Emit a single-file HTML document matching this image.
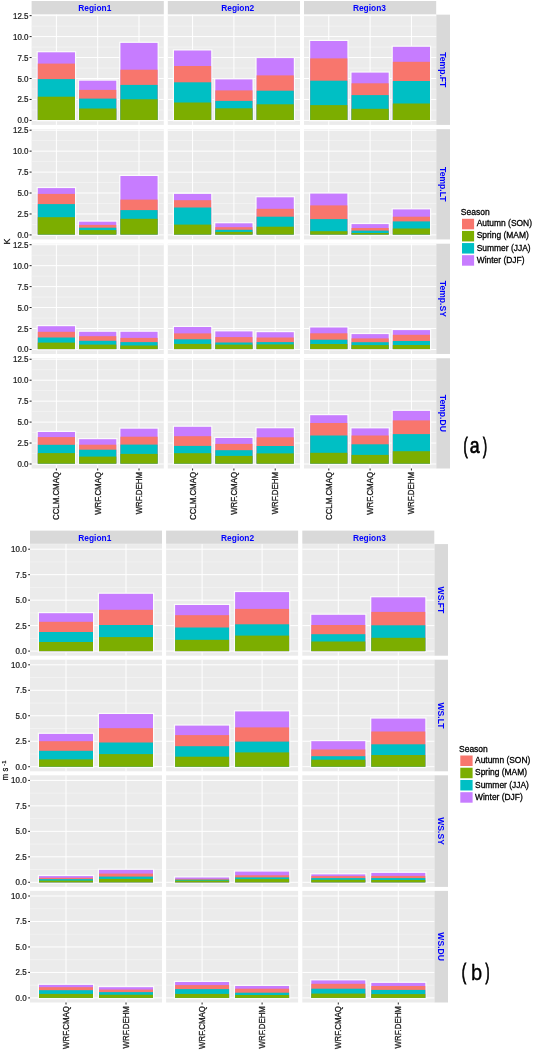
<!DOCTYPE html>
<html><head><meta charset="utf-8"><title>Seasonal contributions</title>
<style>
html,body{margin:0;padding:0;background:#fff;}
body{width:533px;height:1050px;overflow:hidden;}
svg{display:block;font-family:"Liberation Sans", sans-serif;}
</style></head>
<body>
<div style="position:absolute;left:0;top:0;width:533px;height:1050px;will-change:transform">
<svg width="533" height="1050" viewBox="0 0 533 1050">
<rect x="0" y="0" width="533" height="1050" fill="#FFFFFF"/>
<rect x="31.60" y="1.00" width="132.20" height="13.30" fill="#D9D9D9"/>
<rect x="167.80" y="1.00" width="132.20" height="13.30" fill="#D9D9D9"/>
<rect x="304.00" y="1.00" width="132.20" height="13.30" fill="#D9D9D9"/>
<text x="94.80" y="10.90" font-size="8.4" fill="#0000FF" font-weight="bold" text-anchor="middle">Region1</text>
<text x="237.70" y="10.90" font-size="8.4" fill="#0000FF" font-weight="bold" text-anchor="middle">Region2</text>
<text x="369.40" y="10.90" font-size="8.4" fill="#0000FF" font-weight="bold" text-anchor="middle">Region3</text>
<rect x="436.20" y="14.65" width="13.80" height="110.25" fill="#D9D9D9"/>
<text x="0.00" y="0.00" font-size="8.6" fill="#0000FF" font-weight="bold" text-anchor="middle" transform="translate(440.20,69.78) rotate(90)">Temp.FT</text>
<rect x="31.60" y="14.65" width="132.20" height="110.25" fill="#EBEBEB"/>
<line x1="31.60" y1="109.93" x2="163.80" y2="109.93" stroke="#F6F6F6" stroke-width="0.6"/>
<line x1="31.60" y1="88.97" x2="163.80" y2="88.97" stroke="#F6F6F6" stroke-width="0.6"/>
<line x1="31.60" y1="68.03" x2="163.80" y2="68.03" stroke="#F6F6F6" stroke-width="0.6"/>
<line x1="31.60" y1="47.08" x2="163.80" y2="47.08" stroke="#F6F6F6" stroke-width="0.6"/>
<line x1="31.60" y1="26.12" x2="163.80" y2="26.12" stroke="#F6F6F6" stroke-width="0.6"/>
<line x1="31.60" y1="120.40" x2="163.80" y2="120.40" stroke="#FFFFFF" stroke-width="1.0"/>
<line x1="31.60" y1="99.45" x2="163.80" y2="99.45" stroke="#FFFFFF" stroke-width="1.0"/>
<line x1="31.60" y1="78.50" x2="163.80" y2="78.50" stroke="#FFFFFF" stroke-width="1.0"/>
<line x1="31.60" y1="57.55" x2="163.80" y2="57.55" stroke="#FFFFFF" stroke-width="1.0"/>
<line x1="31.60" y1="36.60" x2="163.80" y2="36.60" stroke="#FFFFFF" stroke-width="1.0"/>
<line x1="31.60" y1="15.65" x2="163.80" y2="15.65" stroke="#FFFFFF" stroke-width="1.0"/>
<line x1="56.39" y1="14.65" x2="56.39" y2="124.90" stroke="#FFFFFF" stroke-width="1.0"/>
<line x1="97.70" y1="14.65" x2="97.70" y2="124.90" stroke="#FFFFFF" stroke-width="1.0"/>
<line x1="139.01" y1="14.65" x2="139.01" y2="124.90" stroke="#FFFFFF" stroke-width="1.0"/>
<rect x="36.60" y="51.10" width="39.58" height="70.30" fill="#FBFBFB"/>
<rect x="37.80" y="52.30" width="37.18" height="67.70" fill="#C77CFF"/>
<rect x="37.80" y="63.60" width="37.18" height="56.40" fill="#F8766D"/>
<rect x="37.80" y="79.10" width="37.18" height="40.90" fill="#00BFC4"/>
<rect x="37.80" y="96.70" width="37.18" height="23.30" fill="#7CAE00"/>
<rect x="77.91" y="79.50" width="39.58" height="41.90" fill="#FBFBFB"/>
<rect x="79.11" y="80.70" width="37.18" height="39.30" fill="#C77CFF"/>
<rect x="79.11" y="89.90" width="37.18" height="30.10" fill="#F8766D"/>
<rect x="79.11" y="98.60" width="37.18" height="21.40" fill="#00BFC4"/>
<rect x="79.11" y="108.50" width="37.18" height="11.50" fill="#7CAE00"/>
<rect x="119.22" y="41.70" width="39.58" height="79.70" fill="#FBFBFB"/>
<rect x="120.42" y="42.90" width="37.18" height="77.10" fill="#C77CFF"/>
<rect x="120.42" y="69.70" width="37.18" height="50.30" fill="#F8766D"/>
<rect x="120.42" y="84.90" width="37.18" height="35.10" fill="#00BFC4"/>
<rect x="120.42" y="99.30" width="37.18" height="20.70" fill="#7CAE00"/>
<rect x="167.80" y="14.65" width="132.20" height="110.25" fill="#EBEBEB"/>
<line x1="167.80" y1="109.93" x2="300.00" y2="109.93" stroke="#F6F6F6" stroke-width="0.6"/>
<line x1="167.80" y1="88.97" x2="300.00" y2="88.97" stroke="#F6F6F6" stroke-width="0.6"/>
<line x1="167.80" y1="68.03" x2="300.00" y2="68.03" stroke="#F6F6F6" stroke-width="0.6"/>
<line x1="167.80" y1="47.08" x2="300.00" y2="47.08" stroke="#F6F6F6" stroke-width="0.6"/>
<line x1="167.80" y1="26.12" x2="300.00" y2="26.12" stroke="#F6F6F6" stroke-width="0.6"/>
<line x1="167.80" y1="120.40" x2="300.00" y2="120.40" stroke="#FFFFFF" stroke-width="1.0"/>
<line x1="167.80" y1="99.45" x2="300.00" y2="99.45" stroke="#FFFFFF" stroke-width="1.0"/>
<line x1="167.80" y1="78.50" x2="300.00" y2="78.50" stroke="#FFFFFF" stroke-width="1.0"/>
<line x1="167.80" y1="57.55" x2="300.00" y2="57.55" stroke="#FFFFFF" stroke-width="1.0"/>
<line x1="167.80" y1="36.60" x2="300.00" y2="36.60" stroke="#FFFFFF" stroke-width="1.0"/>
<line x1="167.80" y1="15.65" x2="300.00" y2="15.65" stroke="#FFFFFF" stroke-width="1.0"/>
<line x1="192.59" y1="14.65" x2="192.59" y2="124.90" stroke="#FFFFFF" stroke-width="1.0"/>
<line x1="233.90" y1="14.65" x2="233.90" y2="124.90" stroke="#FFFFFF" stroke-width="1.0"/>
<line x1="275.21" y1="14.65" x2="275.21" y2="124.90" stroke="#FFFFFF" stroke-width="1.0"/>
<rect x="172.80" y="49.30" width="39.58" height="72.10" fill="#FBFBFB"/>
<rect x="174.00" y="50.50" width="37.18" height="69.50" fill="#C77CFF"/>
<rect x="174.00" y="66.00" width="37.18" height="54.00" fill="#F8766D"/>
<rect x="174.00" y="82.30" width="37.18" height="37.70" fill="#00BFC4"/>
<rect x="174.00" y="102.50" width="37.18" height="17.50" fill="#7CAE00"/>
<rect x="214.11" y="78.20" width="39.58" height="43.20" fill="#FBFBFB"/>
<rect x="215.31" y="79.40" width="37.18" height="40.60" fill="#C77CFF"/>
<rect x="215.31" y="90.40" width="37.18" height="29.60" fill="#F8766D"/>
<rect x="215.31" y="100.90" width="37.18" height="19.10" fill="#00BFC4"/>
<rect x="215.31" y="108.30" width="37.18" height="11.70" fill="#7CAE00"/>
<rect x="255.42" y="56.90" width="39.58" height="64.50" fill="#FBFBFB"/>
<rect x="256.62" y="58.10" width="37.18" height="61.90" fill="#C77CFF"/>
<rect x="256.62" y="75.40" width="37.18" height="44.60" fill="#F8766D"/>
<rect x="256.62" y="90.70" width="37.18" height="29.30" fill="#00BFC4"/>
<rect x="256.62" y="104.30" width="37.18" height="15.70" fill="#7CAE00"/>
<rect x="304.00" y="14.65" width="132.20" height="110.25" fill="#EBEBEB"/>
<line x1="304.00" y1="109.93" x2="436.20" y2="109.93" stroke="#F6F6F6" stroke-width="0.6"/>
<line x1="304.00" y1="88.97" x2="436.20" y2="88.97" stroke="#F6F6F6" stroke-width="0.6"/>
<line x1="304.00" y1="68.03" x2="436.20" y2="68.03" stroke="#F6F6F6" stroke-width="0.6"/>
<line x1="304.00" y1="47.08" x2="436.20" y2="47.08" stroke="#F6F6F6" stroke-width="0.6"/>
<line x1="304.00" y1="26.12" x2="436.20" y2="26.12" stroke="#F6F6F6" stroke-width="0.6"/>
<line x1="304.00" y1="120.40" x2="436.20" y2="120.40" stroke="#FFFFFF" stroke-width="1.0"/>
<line x1="304.00" y1="99.45" x2="436.20" y2="99.45" stroke="#FFFFFF" stroke-width="1.0"/>
<line x1="304.00" y1="78.50" x2="436.20" y2="78.50" stroke="#FFFFFF" stroke-width="1.0"/>
<line x1="304.00" y1="57.55" x2="436.20" y2="57.55" stroke="#FFFFFF" stroke-width="1.0"/>
<line x1="304.00" y1="36.60" x2="436.20" y2="36.60" stroke="#FFFFFF" stroke-width="1.0"/>
<line x1="304.00" y1="15.65" x2="436.20" y2="15.65" stroke="#FFFFFF" stroke-width="1.0"/>
<line x1="328.79" y1="14.65" x2="328.79" y2="124.90" stroke="#FFFFFF" stroke-width="1.0"/>
<line x1="370.10" y1="14.65" x2="370.10" y2="124.90" stroke="#FFFFFF" stroke-width="1.0"/>
<line x1="411.41" y1="14.65" x2="411.41" y2="124.90" stroke="#FFFFFF" stroke-width="1.0"/>
<rect x="309.00" y="39.80" width="39.58" height="81.60" fill="#FBFBFB"/>
<rect x="310.20" y="41.00" width="37.18" height="79.00" fill="#C77CFF"/>
<rect x="310.20" y="58.40" width="37.18" height="61.60" fill="#F8766D"/>
<rect x="310.20" y="80.70" width="37.18" height="39.30" fill="#00BFC4"/>
<rect x="310.20" y="105.10" width="37.18" height="14.90" fill="#7CAE00"/>
<rect x="350.31" y="71.40" width="39.58" height="50.00" fill="#FBFBFB"/>
<rect x="351.51" y="72.60" width="37.18" height="47.40" fill="#C77CFF"/>
<rect x="351.51" y="83.30" width="37.18" height="36.70" fill="#F8766D"/>
<rect x="351.51" y="95.10" width="37.18" height="24.90" fill="#00BFC4"/>
<rect x="351.51" y="108.80" width="37.18" height="11.20" fill="#7CAE00"/>
<rect x="391.62" y="45.60" width="39.58" height="75.80" fill="#FBFBFB"/>
<rect x="392.82" y="46.80" width="37.18" height="73.20" fill="#C77CFF"/>
<rect x="392.82" y="61.80" width="37.18" height="58.20" fill="#F8766D"/>
<rect x="392.82" y="81.00" width="37.18" height="39.00" fill="#00BFC4"/>
<rect x="392.82" y="103.50" width="37.18" height="16.50" fill="#7CAE00"/>
<text x="0.00" y="0.00" font-size="8.6" fill="#222" font-weight="normal" text-anchor="end" transform="translate(28.50,123.40) scale(0.93,1)" stroke="#222" stroke-width="0.25">0.0</text>
<line x1="29.60" y1="120.40" x2="31.60" y2="120.40" stroke="#222222" stroke-width="1.0"/>
<text x="0.00" y="0.00" font-size="8.6" fill="#222" font-weight="normal" text-anchor="end" transform="translate(28.50,102.45) scale(0.93,1)" stroke="#222" stroke-width="0.25">2.5</text>
<line x1="29.60" y1="99.45" x2="31.60" y2="99.45" stroke="#222222" stroke-width="1.0"/>
<text x="0.00" y="0.00" font-size="8.6" fill="#222" font-weight="normal" text-anchor="end" transform="translate(28.50,81.50) scale(0.93,1)" stroke="#222" stroke-width="0.25">5.0</text>
<line x1="29.60" y1="78.50" x2="31.60" y2="78.50" stroke="#222222" stroke-width="1.0"/>
<text x="0.00" y="0.00" font-size="8.6" fill="#222" font-weight="normal" text-anchor="end" transform="translate(28.50,60.55) scale(0.93,1)" stroke="#222" stroke-width="0.25">7.5</text>
<line x1="29.60" y1="57.55" x2="31.60" y2="57.55" stroke="#222222" stroke-width="1.0"/>
<text x="0.00" y="0.00" font-size="8.6" fill="#222" font-weight="normal" text-anchor="end" transform="translate(28.50,39.60) scale(0.93,1)" stroke="#222" stroke-width="0.25">10.0</text>
<line x1="29.60" y1="36.60" x2="31.60" y2="36.60" stroke="#222222" stroke-width="1.0"/>
<text x="0.00" y="0.00" font-size="8.6" fill="#222" font-weight="normal" text-anchor="end" transform="translate(28.50,18.65) scale(0.93,1)" stroke="#222" stroke-width="0.25">12.5</text>
<line x1="29.60" y1="15.65" x2="31.60" y2="15.65" stroke="#222222" stroke-width="1.0"/>
<rect x="436.20" y="129.18" width="13.80" height="110.25" fill="#D9D9D9"/>
<text x="0.00" y="0.00" font-size="8.6" fill="#0000FF" font-weight="bold" text-anchor="middle" transform="translate(440.20,184.31) rotate(90)">Temp.LT</text>
<rect x="31.60" y="129.18" width="132.20" height="110.25" fill="#EBEBEB"/>
<line x1="31.60" y1="224.46" x2="163.80" y2="224.46" stroke="#F6F6F6" stroke-width="0.6"/>
<line x1="31.60" y1="203.50" x2="163.80" y2="203.50" stroke="#F6F6F6" stroke-width="0.6"/>
<line x1="31.60" y1="182.56" x2="163.80" y2="182.56" stroke="#F6F6F6" stroke-width="0.6"/>
<line x1="31.60" y1="161.61" x2="163.80" y2="161.61" stroke="#F6F6F6" stroke-width="0.6"/>
<line x1="31.60" y1="140.66" x2="163.80" y2="140.66" stroke="#F6F6F6" stroke-width="0.6"/>
<line x1="31.60" y1="234.93" x2="163.80" y2="234.93" stroke="#FFFFFF" stroke-width="1.0"/>
<line x1="31.60" y1="213.98" x2="163.80" y2="213.98" stroke="#FFFFFF" stroke-width="1.0"/>
<line x1="31.60" y1="193.03" x2="163.80" y2="193.03" stroke="#FFFFFF" stroke-width="1.0"/>
<line x1="31.60" y1="172.08" x2="163.80" y2="172.08" stroke="#FFFFFF" stroke-width="1.0"/>
<line x1="31.60" y1="151.13" x2="163.80" y2="151.13" stroke="#FFFFFF" stroke-width="1.0"/>
<line x1="31.60" y1="130.18" x2="163.80" y2="130.18" stroke="#FFFFFF" stroke-width="1.0"/>
<line x1="56.39" y1="129.18" x2="56.39" y2="239.43" stroke="#FFFFFF" stroke-width="1.0"/>
<line x1="97.70" y1="129.18" x2="97.70" y2="239.43" stroke="#FFFFFF" stroke-width="1.0"/>
<line x1="139.01" y1="129.18" x2="139.01" y2="239.43" stroke="#FFFFFF" stroke-width="1.0"/>
<rect x="36.60" y="186.90" width="39.58" height="49.03" fill="#FBFBFB"/>
<rect x="37.80" y="188.10" width="37.18" height="46.43" fill="#C77CFF"/>
<rect x="37.80" y="193.90" width="37.18" height="40.63" fill="#F8766D"/>
<rect x="37.80" y="204.10" width="37.18" height="30.43" fill="#00BFC4"/>
<rect x="37.80" y="217.20" width="37.18" height="17.33" fill="#7CAE00"/>
<rect x="77.91" y="220.50" width="39.58" height="15.43" fill="#FBFBFB"/>
<rect x="79.11" y="221.70" width="37.18" height="12.83" fill="#C77CFF"/>
<rect x="79.11" y="224.90" width="37.18" height="9.63" fill="#F8766D"/>
<rect x="79.11" y="227.70" width="37.18" height="6.83" fill="#00BFC4"/>
<rect x="79.11" y="230.10" width="37.18" height="4.43" fill="#7CAE00"/>
<rect x="119.22" y="174.80" width="39.58" height="61.13" fill="#FBFBFB"/>
<rect x="120.42" y="176.00" width="37.18" height="58.53" fill="#C77CFF"/>
<rect x="120.42" y="199.60" width="37.18" height="34.93" fill="#F8766D"/>
<rect x="120.42" y="210.10" width="37.18" height="24.43" fill="#00BFC4"/>
<rect x="120.42" y="218.80" width="37.18" height="15.73" fill="#7CAE00"/>
<rect x="167.80" y="129.18" width="132.20" height="110.25" fill="#EBEBEB"/>
<line x1="167.80" y1="224.46" x2="300.00" y2="224.46" stroke="#F6F6F6" stroke-width="0.6"/>
<line x1="167.80" y1="203.50" x2="300.00" y2="203.50" stroke="#F6F6F6" stroke-width="0.6"/>
<line x1="167.80" y1="182.56" x2="300.00" y2="182.56" stroke="#F6F6F6" stroke-width="0.6"/>
<line x1="167.80" y1="161.61" x2="300.00" y2="161.61" stroke="#F6F6F6" stroke-width="0.6"/>
<line x1="167.80" y1="140.66" x2="300.00" y2="140.66" stroke="#F6F6F6" stroke-width="0.6"/>
<line x1="167.80" y1="234.93" x2="300.00" y2="234.93" stroke="#FFFFFF" stroke-width="1.0"/>
<line x1="167.80" y1="213.98" x2="300.00" y2="213.98" stroke="#FFFFFF" stroke-width="1.0"/>
<line x1="167.80" y1="193.03" x2="300.00" y2="193.03" stroke="#FFFFFF" stroke-width="1.0"/>
<line x1="167.80" y1="172.08" x2="300.00" y2="172.08" stroke="#FFFFFF" stroke-width="1.0"/>
<line x1="167.80" y1="151.13" x2="300.00" y2="151.13" stroke="#FFFFFF" stroke-width="1.0"/>
<line x1="167.80" y1="130.18" x2="300.00" y2="130.18" stroke="#FFFFFF" stroke-width="1.0"/>
<line x1="192.59" y1="129.18" x2="192.59" y2="239.43" stroke="#FFFFFF" stroke-width="1.0"/>
<line x1="233.90" y1="129.18" x2="233.90" y2="239.43" stroke="#FFFFFF" stroke-width="1.0"/>
<line x1="275.21" y1="129.18" x2="275.21" y2="239.43" stroke="#FFFFFF" stroke-width="1.0"/>
<rect x="172.80" y="192.70" width="39.58" height="43.23" fill="#FBFBFB"/>
<rect x="174.00" y="193.90" width="37.18" height="40.63" fill="#C77CFF"/>
<rect x="174.00" y="200.20" width="37.18" height="34.33" fill="#F8766D"/>
<rect x="174.00" y="207.50" width="37.18" height="27.03" fill="#00BFC4"/>
<rect x="174.00" y="224.60" width="37.18" height="9.93" fill="#7CAE00"/>
<rect x="214.11" y="222.10" width="39.58" height="13.83" fill="#FBFBFB"/>
<rect x="215.31" y="223.30" width="37.18" height="11.23" fill="#C77CFF"/>
<rect x="215.31" y="227.20" width="37.18" height="7.33" fill="#F8766D"/>
<rect x="215.31" y="229.80" width="37.18" height="4.73" fill="#00BFC4"/>
<rect x="215.31" y="231.90" width="37.18" height="2.63" fill="#7CAE00"/>
<rect x="255.42" y="196.10" width="39.58" height="39.83" fill="#FBFBFB"/>
<rect x="256.62" y="197.30" width="37.18" height="37.23" fill="#C77CFF"/>
<rect x="256.62" y="208.80" width="37.18" height="25.73" fill="#F8766D"/>
<rect x="256.62" y="216.70" width="37.18" height="17.83" fill="#00BFC4"/>
<rect x="256.62" y="226.70" width="37.18" height="7.83" fill="#7CAE00"/>
<rect x="304.00" y="129.18" width="132.20" height="110.25" fill="#EBEBEB"/>
<line x1="304.00" y1="224.46" x2="436.20" y2="224.46" stroke="#F6F6F6" stroke-width="0.6"/>
<line x1="304.00" y1="203.50" x2="436.20" y2="203.50" stroke="#F6F6F6" stroke-width="0.6"/>
<line x1="304.00" y1="182.56" x2="436.20" y2="182.56" stroke="#F6F6F6" stroke-width="0.6"/>
<line x1="304.00" y1="161.61" x2="436.20" y2="161.61" stroke="#F6F6F6" stroke-width="0.6"/>
<line x1="304.00" y1="140.66" x2="436.20" y2="140.66" stroke="#F6F6F6" stroke-width="0.6"/>
<line x1="304.00" y1="234.93" x2="436.20" y2="234.93" stroke="#FFFFFF" stroke-width="1.0"/>
<line x1="304.00" y1="213.98" x2="436.20" y2="213.98" stroke="#FFFFFF" stroke-width="1.0"/>
<line x1="304.00" y1="193.03" x2="436.20" y2="193.03" stroke="#FFFFFF" stroke-width="1.0"/>
<line x1="304.00" y1="172.08" x2="436.20" y2="172.08" stroke="#FFFFFF" stroke-width="1.0"/>
<line x1="304.00" y1="151.13" x2="436.20" y2="151.13" stroke="#FFFFFF" stroke-width="1.0"/>
<line x1="304.00" y1="130.18" x2="436.20" y2="130.18" stroke="#FFFFFF" stroke-width="1.0"/>
<line x1="328.79" y1="129.18" x2="328.79" y2="239.43" stroke="#FFFFFF" stroke-width="1.0"/>
<line x1="370.10" y1="129.18" x2="370.10" y2="239.43" stroke="#FFFFFF" stroke-width="1.0"/>
<line x1="411.41" y1="129.18" x2="411.41" y2="239.43" stroke="#FFFFFF" stroke-width="1.0"/>
<rect x="309.00" y="192.40" width="39.58" height="43.53" fill="#FBFBFB"/>
<rect x="310.20" y="193.60" width="37.18" height="40.93" fill="#C77CFF"/>
<rect x="310.20" y="205.40" width="37.18" height="29.13" fill="#F8766D"/>
<rect x="310.20" y="219.10" width="37.18" height="15.43" fill="#00BFC4"/>
<rect x="310.20" y="231.20" width="37.18" height="3.33" fill="#7CAE00"/>
<rect x="350.31" y="222.90" width="39.58" height="13.03" fill="#FBFBFB"/>
<rect x="351.51" y="224.10" width="37.18" height="10.43" fill="#C77CFF"/>
<rect x="351.51" y="228.00" width="37.18" height="6.53" fill="#F8766D"/>
<rect x="351.51" y="230.60" width="37.18" height="3.93" fill="#00BFC4"/>
<rect x="351.51" y="233.00" width="37.18" height="1.53" fill="#7CAE00"/>
<rect x="391.62" y="208.20" width="39.58" height="27.73" fill="#FBFBFB"/>
<rect x="392.82" y="209.40" width="37.18" height="25.13" fill="#C77CFF"/>
<rect x="392.82" y="216.70" width="37.18" height="17.83" fill="#F8766D"/>
<rect x="392.82" y="221.40" width="37.18" height="13.13" fill="#00BFC4"/>
<rect x="392.82" y="228.50" width="37.18" height="6.03" fill="#7CAE00"/>
<text x="0.00" y="0.00" font-size="8.6" fill="#222" font-weight="normal" text-anchor="end" transform="translate(28.50,237.93) scale(0.93,1)" stroke="#222" stroke-width="0.25">0.0</text>
<line x1="29.60" y1="234.93" x2="31.60" y2="234.93" stroke="#222222" stroke-width="1.0"/>
<text x="0.00" y="0.00" font-size="8.6" fill="#222" font-weight="normal" text-anchor="end" transform="translate(28.50,216.98) scale(0.93,1)" stroke="#222" stroke-width="0.25">2.5</text>
<line x1="29.60" y1="213.98" x2="31.60" y2="213.98" stroke="#222222" stroke-width="1.0"/>
<text x="0.00" y="0.00" font-size="8.6" fill="#222" font-weight="normal" text-anchor="end" transform="translate(28.50,196.03) scale(0.93,1)" stroke="#222" stroke-width="0.25">5.0</text>
<line x1="29.60" y1="193.03" x2="31.60" y2="193.03" stroke="#222222" stroke-width="1.0"/>
<text x="0.00" y="0.00" font-size="8.6" fill="#222" font-weight="normal" text-anchor="end" transform="translate(28.50,175.08) scale(0.93,1)" stroke="#222" stroke-width="0.25">7.5</text>
<line x1="29.60" y1="172.08" x2="31.60" y2="172.08" stroke="#222222" stroke-width="1.0"/>
<text x="0.00" y="0.00" font-size="8.6" fill="#222" font-weight="normal" text-anchor="end" transform="translate(28.50,154.13) scale(0.93,1)" stroke="#222" stroke-width="0.25">10.0</text>
<line x1="29.60" y1="151.13" x2="31.60" y2="151.13" stroke="#222222" stroke-width="1.0"/>
<text x="0.00" y="0.00" font-size="8.6" fill="#222" font-weight="normal" text-anchor="end" transform="translate(28.50,133.18) scale(0.93,1)" stroke="#222" stroke-width="0.25">12.5</text>
<line x1="29.60" y1="130.18" x2="31.60" y2="130.18" stroke="#222222" stroke-width="1.0"/>
<rect x="436.20" y="243.71" width="13.80" height="110.25" fill="#D9D9D9"/>
<text x="0.00" y="0.00" font-size="8.6" fill="#0000FF" font-weight="bold" text-anchor="middle" transform="translate(440.20,298.84) rotate(90)">Temp.SY</text>
<rect x="31.60" y="243.71" width="132.20" height="110.25" fill="#EBEBEB"/>
<line x1="31.60" y1="338.99" x2="163.80" y2="338.99" stroke="#F6F6F6" stroke-width="0.6"/>
<line x1="31.60" y1="318.04" x2="163.80" y2="318.04" stroke="#F6F6F6" stroke-width="0.6"/>
<line x1="31.60" y1="297.09" x2="163.80" y2="297.09" stroke="#F6F6F6" stroke-width="0.6"/>
<line x1="31.60" y1="276.14" x2="163.80" y2="276.14" stroke="#F6F6F6" stroke-width="0.6"/>
<line x1="31.60" y1="255.19" x2="163.80" y2="255.19" stroke="#F6F6F6" stroke-width="0.6"/>
<line x1="31.60" y1="349.46" x2="163.80" y2="349.46" stroke="#FFFFFF" stroke-width="1.0"/>
<line x1="31.60" y1="328.51" x2="163.80" y2="328.51" stroke="#FFFFFF" stroke-width="1.0"/>
<line x1="31.60" y1="307.56" x2="163.80" y2="307.56" stroke="#FFFFFF" stroke-width="1.0"/>
<line x1="31.60" y1="286.61" x2="163.80" y2="286.61" stroke="#FFFFFF" stroke-width="1.0"/>
<line x1="31.60" y1="265.66" x2="163.80" y2="265.66" stroke="#FFFFFF" stroke-width="1.0"/>
<line x1="31.60" y1="244.71" x2="163.80" y2="244.71" stroke="#FFFFFF" stroke-width="1.0"/>
<line x1="56.39" y1="243.71" x2="56.39" y2="353.96" stroke="#FFFFFF" stroke-width="1.0"/>
<line x1="97.70" y1="243.71" x2="97.70" y2="353.96" stroke="#FFFFFF" stroke-width="1.0"/>
<line x1="139.01" y1="243.71" x2="139.01" y2="353.96" stroke="#FFFFFF" stroke-width="1.0"/>
<rect x="36.60" y="325.00" width="39.58" height="25.46" fill="#FBFBFB"/>
<rect x="37.80" y="326.20" width="37.18" height="22.86" fill="#C77CFF"/>
<rect x="37.80" y="331.80" width="37.18" height="17.26" fill="#F8766D"/>
<rect x="37.80" y="337.50" width="37.18" height="11.56" fill="#00BFC4"/>
<rect x="37.80" y="342.60" width="37.18" height="6.46" fill="#7CAE00"/>
<rect x="77.91" y="330.60" width="39.58" height="19.86" fill="#FBFBFB"/>
<rect x="79.11" y="331.80" width="37.18" height="17.26" fill="#C77CFF"/>
<rect x="79.11" y="336.20" width="37.18" height="12.86" fill="#F8766D"/>
<rect x="79.11" y="340.80" width="37.18" height="8.26" fill="#00BFC4"/>
<rect x="79.11" y="344.60" width="37.18" height="4.46" fill="#7CAE00"/>
<rect x="119.22" y="330.60" width="39.58" height="19.86" fill="#FBFBFB"/>
<rect x="120.42" y="331.80" width="37.18" height="17.26" fill="#C77CFF"/>
<rect x="120.42" y="337.90" width="37.18" height="11.16" fill="#F8766D"/>
<rect x="120.42" y="342.10" width="37.18" height="6.96" fill="#00BFC4"/>
<rect x="120.42" y="345.50" width="37.18" height="3.56" fill="#7CAE00"/>
<rect x="167.80" y="243.71" width="132.20" height="110.25" fill="#EBEBEB"/>
<line x1="167.80" y1="338.99" x2="300.00" y2="338.99" stroke="#F6F6F6" stroke-width="0.6"/>
<line x1="167.80" y1="318.04" x2="300.00" y2="318.04" stroke="#F6F6F6" stroke-width="0.6"/>
<line x1="167.80" y1="297.09" x2="300.00" y2="297.09" stroke="#F6F6F6" stroke-width="0.6"/>
<line x1="167.80" y1="276.14" x2="300.00" y2="276.14" stroke="#F6F6F6" stroke-width="0.6"/>
<line x1="167.80" y1="255.19" x2="300.00" y2="255.19" stroke="#F6F6F6" stroke-width="0.6"/>
<line x1="167.80" y1="349.46" x2="300.00" y2="349.46" stroke="#FFFFFF" stroke-width="1.0"/>
<line x1="167.80" y1="328.51" x2="300.00" y2="328.51" stroke="#FFFFFF" stroke-width="1.0"/>
<line x1="167.80" y1="307.56" x2="300.00" y2="307.56" stroke="#FFFFFF" stroke-width="1.0"/>
<line x1="167.80" y1="286.61" x2="300.00" y2="286.61" stroke="#FFFFFF" stroke-width="1.0"/>
<line x1="167.80" y1="265.66" x2="300.00" y2="265.66" stroke="#FFFFFF" stroke-width="1.0"/>
<line x1="167.80" y1="244.71" x2="300.00" y2="244.71" stroke="#FFFFFF" stroke-width="1.0"/>
<line x1="192.59" y1="243.71" x2="192.59" y2="353.96" stroke="#FFFFFF" stroke-width="1.0"/>
<line x1="233.90" y1="243.71" x2="233.90" y2="353.96" stroke="#FFFFFF" stroke-width="1.0"/>
<line x1="275.21" y1="243.71" x2="275.21" y2="353.96" stroke="#FFFFFF" stroke-width="1.0"/>
<rect x="172.80" y="325.80" width="39.58" height="24.66" fill="#FBFBFB"/>
<rect x="174.00" y="327.00" width="37.18" height="22.06" fill="#C77CFF"/>
<rect x="174.00" y="333.40" width="37.18" height="15.66" fill="#F8766D"/>
<rect x="174.00" y="339.30" width="37.18" height="9.76" fill="#00BFC4"/>
<rect x="174.00" y="343.90" width="37.18" height="5.16" fill="#7CAE00"/>
<rect x="214.11" y="330.20" width="39.58" height="20.26" fill="#FBFBFB"/>
<rect x="215.31" y="331.40" width="37.18" height="17.66" fill="#C77CFF"/>
<rect x="215.31" y="337.10" width="37.18" height="11.96" fill="#F8766D"/>
<rect x="215.31" y="342.50" width="37.18" height="6.56" fill="#00BFC4"/>
<rect x="215.31" y="344.60" width="37.18" height="4.46" fill="#7CAE00"/>
<rect x="255.42" y="331.00" width="39.58" height="19.46" fill="#FBFBFB"/>
<rect x="256.62" y="332.20" width="37.18" height="16.86" fill="#C77CFF"/>
<rect x="256.62" y="337.50" width="37.18" height="11.56" fill="#F8766D"/>
<rect x="256.62" y="342.10" width="37.18" height="6.96" fill="#00BFC4"/>
<rect x="256.62" y="344.40" width="37.18" height="4.66" fill="#7CAE00"/>
<rect x="304.00" y="243.71" width="132.20" height="110.25" fill="#EBEBEB"/>
<line x1="304.00" y1="338.99" x2="436.20" y2="338.99" stroke="#F6F6F6" stroke-width="0.6"/>
<line x1="304.00" y1="318.04" x2="436.20" y2="318.04" stroke="#F6F6F6" stroke-width="0.6"/>
<line x1="304.00" y1="297.09" x2="436.20" y2="297.09" stroke="#F6F6F6" stroke-width="0.6"/>
<line x1="304.00" y1="276.14" x2="436.20" y2="276.14" stroke="#F6F6F6" stroke-width="0.6"/>
<line x1="304.00" y1="255.19" x2="436.20" y2="255.19" stroke="#F6F6F6" stroke-width="0.6"/>
<line x1="304.00" y1="349.46" x2="436.20" y2="349.46" stroke="#FFFFFF" stroke-width="1.0"/>
<line x1="304.00" y1="328.51" x2="436.20" y2="328.51" stroke="#FFFFFF" stroke-width="1.0"/>
<line x1="304.00" y1="307.56" x2="436.20" y2="307.56" stroke="#FFFFFF" stroke-width="1.0"/>
<line x1="304.00" y1="286.61" x2="436.20" y2="286.61" stroke="#FFFFFF" stroke-width="1.0"/>
<line x1="304.00" y1="265.66" x2="436.20" y2="265.66" stroke="#FFFFFF" stroke-width="1.0"/>
<line x1="304.00" y1="244.71" x2="436.20" y2="244.71" stroke="#FFFFFF" stroke-width="1.0"/>
<line x1="328.79" y1="243.71" x2="328.79" y2="353.96" stroke="#FFFFFF" stroke-width="1.0"/>
<line x1="370.10" y1="243.71" x2="370.10" y2="353.96" stroke="#FFFFFF" stroke-width="1.0"/>
<line x1="411.41" y1="243.71" x2="411.41" y2="353.96" stroke="#FFFFFF" stroke-width="1.0"/>
<rect x="309.00" y="326.30" width="39.58" height="24.16" fill="#FBFBFB"/>
<rect x="310.20" y="327.50" width="37.18" height="21.56" fill="#C77CFF"/>
<rect x="310.20" y="333.30" width="37.18" height="15.76" fill="#F8766D"/>
<rect x="310.20" y="339.70" width="37.18" height="9.36" fill="#00BFC4"/>
<rect x="310.20" y="344.00" width="37.18" height="5.06" fill="#7CAE00"/>
<rect x="350.31" y="332.90" width="39.58" height="17.56" fill="#FBFBFB"/>
<rect x="351.51" y="334.10" width="37.18" height="14.96" fill="#C77CFF"/>
<rect x="351.51" y="338.40" width="37.18" height="10.66" fill="#F8766D"/>
<rect x="351.51" y="342.20" width="37.18" height="6.86" fill="#00BFC4"/>
<rect x="351.51" y="345.10" width="37.18" height="3.96" fill="#7CAE00"/>
<rect x="391.62" y="328.90" width="39.58" height="21.56" fill="#FBFBFB"/>
<rect x="392.82" y="330.10" width="37.18" height="18.96" fill="#C77CFF"/>
<rect x="392.82" y="334.80" width="37.18" height="14.26" fill="#F8766D"/>
<rect x="392.82" y="341.00" width="37.18" height="8.06" fill="#00BFC4"/>
<rect x="392.82" y="345.00" width="37.18" height="4.06" fill="#7CAE00"/>
<text x="0.00" y="0.00" font-size="8.6" fill="#222" font-weight="normal" text-anchor="end" transform="translate(28.50,352.46) scale(0.93,1)" stroke="#222" stroke-width="0.25">0.0</text>
<line x1="29.60" y1="349.46" x2="31.60" y2="349.46" stroke="#222222" stroke-width="1.0"/>
<text x="0.00" y="0.00" font-size="8.6" fill="#222" font-weight="normal" text-anchor="end" transform="translate(28.50,331.51) scale(0.93,1)" stroke="#222" stroke-width="0.25">2.5</text>
<line x1="29.60" y1="328.51" x2="31.60" y2="328.51" stroke="#222222" stroke-width="1.0"/>
<text x="0.00" y="0.00" font-size="8.6" fill="#222" font-weight="normal" text-anchor="end" transform="translate(28.50,310.56) scale(0.93,1)" stroke="#222" stroke-width="0.25">5.0</text>
<line x1="29.60" y1="307.56" x2="31.60" y2="307.56" stroke="#222222" stroke-width="1.0"/>
<text x="0.00" y="0.00" font-size="8.6" fill="#222" font-weight="normal" text-anchor="end" transform="translate(28.50,289.61) scale(0.93,1)" stroke="#222" stroke-width="0.25">7.5</text>
<line x1="29.60" y1="286.61" x2="31.60" y2="286.61" stroke="#222222" stroke-width="1.0"/>
<text x="0.00" y="0.00" font-size="8.6" fill="#222" font-weight="normal" text-anchor="end" transform="translate(28.50,268.66) scale(0.93,1)" stroke="#222" stroke-width="0.25">10.0</text>
<line x1="29.60" y1="265.66" x2="31.60" y2="265.66" stroke="#222222" stroke-width="1.0"/>
<text x="0.00" y="0.00" font-size="8.6" fill="#222" font-weight="normal" text-anchor="end" transform="translate(28.50,247.71) scale(0.93,1)" stroke="#222" stroke-width="0.25">12.5</text>
<line x1="29.60" y1="244.71" x2="31.60" y2="244.71" stroke="#222222" stroke-width="1.0"/>
<rect x="436.20" y="358.24" width="13.80" height="110.25" fill="#D9D9D9"/>
<text x="0.00" y="0.00" font-size="8.6" fill="#0000FF" font-weight="bold" text-anchor="middle" transform="translate(440.20,413.37) rotate(90)">Temp.DU</text>
<rect x="31.60" y="358.24" width="132.20" height="110.25" fill="#EBEBEB"/>
<line x1="31.60" y1="453.51" x2="163.80" y2="453.51" stroke="#F6F6F6" stroke-width="0.6"/>
<line x1="31.60" y1="432.56" x2="163.80" y2="432.56" stroke="#F6F6F6" stroke-width="0.6"/>
<line x1="31.60" y1="411.62" x2="163.80" y2="411.62" stroke="#F6F6F6" stroke-width="0.6"/>
<line x1="31.60" y1="390.67" x2="163.80" y2="390.67" stroke="#F6F6F6" stroke-width="0.6"/>
<line x1="31.60" y1="369.72" x2="163.80" y2="369.72" stroke="#F6F6F6" stroke-width="0.6"/>
<line x1="31.60" y1="463.99" x2="163.80" y2="463.99" stroke="#FFFFFF" stroke-width="1.0"/>
<line x1="31.60" y1="443.04" x2="163.80" y2="443.04" stroke="#FFFFFF" stroke-width="1.0"/>
<line x1="31.60" y1="422.09" x2="163.80" y2="422.09" stroke="#FFFFFF" stroke-width="1.0"/>
<line x1="31.60" y1="401.14" x2="163.80" y2="401.14" stroke="#FFFFFF" stroke-width="1.0"/>
<line x1="31.60" y1="380.19" x2="163.80" y2="380.19" stroke="#FFFFFF" stroke-width="1.0"/>
<line x1="31.60" y1="359.24" x2="163.80" y2="359.24" stroke="#FFFFFF" stroke-width="1.0"/>
<line x1="56.39" y1="358.24" x2="56.39" y2="468.49" stroke="#FFFFFF" stroke-width="1.0"/>
<line x1="97.70" y1="358.24" x2="97.70" y2="468.49" stroke="#FFFFFF" stroke-width="1.0"/>
<line x1="139.01" y1="358.24" x2="139.01" y2="468.49" stroke="#FFFFFF" stroke-width="1.0"/>
<rect x="36.60" y="430.80" width="39.58" height="34.19" fill="#FBFBFB"/>
<rect x="37.80" y="432.00" width="37.18" height="31.59" fill="#C77CFF"/>
<rect x="37.80" y="437.10" width="37.18" height="26.49" fill="#F8766D"/>
<rect x="37.80" y="444.80" width="37.18" height="18.79" fill="#00BFC4"/>
<rect x="37.80" y="453.10" width="37.18" height="10.49" fill="#7CAE00"/>
<rect x="77.91" y="438.00" width="39.58" height="26.99" fill="#FBFBFB"/>
<rect x="79.11" y="439.20" width="37.18" height="24.39" fill="#C77CFF"/>
<rect x="79.11" y="444.70" width="37.18" height="18.89" fill="#F8766D"/>
<rect x="79.11" y="449.70" width="37.18" height="13.89" fill="#00BFC4"/>
<rect x="79.11" y="456.60" width="37.18" height="6.99" fill="#7CAE00"/>
<rect x="119.22" y="427.50" width="39.58" height="37.49" fill="#FBFBFB"/>
<rect x="120.42" y="428.70" width="37.18" height="34.89" fill="#C77CFF"/>
<rect x="120.42" y="436.70" width="37.18" height="26.89" fill="#F8766D"/>
<rect x="120.42" y="444.60" width="37.18" height="18.99" fill="#00BFC4"/>
<rect x="120.42" y="453.90" width="37.18" height="9.69" fill="#7CAE00"/>
<rect x="167.80" y="358.24" width="132.20" height="110.25" fill="#EBEBEB"/>
<line x1="167.80" y1="453.51" x2="300.00" y2="453.51" stroke="#F6F6F6" stroke-width="0.6"/>
<line x1="167.80" y1="432.56" x2="300.00" y2="432.56" stroke="#F6F6F6" stroke-width="0.6"/>
<line x1="167.80" y1="411.62" x2="300.00" y2="411.62" stroke="#F6F6F6" stroke-width="0.6"/>
<line x1="167.80" y1="390.67" x2="300.00" y2="390.67" stroke="#F6F6F6" stroke-width="0.6"/>
<line x1="167.80" y1="369.72" x2="300.00" y2="369.72" stroke="#F6F6F6" stroke-width="0.6"/>
<line x1="167.80" y1="463.99" x2="300.00" y2="463.99" stroke="#FFFFFF" stroke-width="1.0"/>
<line x1="167.80" y1="443.04" x2="300.00" y2="443.04" stroke="#FFFFFF" stroke-width="1.0"/>
<line x1="167.80" y1="422.09" x2="300.00" y2="422.09" stroke="#FFFFFF" stroke-width="1.0"/>
<line x1="167.80" y1="401.14" x2="300.00" y2="401.14" stroke="#FFFFFF" stroke-width="1.0"/>
<line x1="167.80" y1="380.19" x2="300.00" y2="380.19" stroke="#FFFFFF" stroke-width="1.0"/>
<line x1="167.80" y1="359.24" x2="300.00" y2="359.24" stroke="#FFFFFF" stroke-width="1.0"/>
<line x1="192.59" y1="358.24" x2="192.59" y2="468.49" stroke="#FFFFFF" stroke-width="1.0"/>
<line x1="233.90" y1="358.24" x2="233.90" y2="468.49" stroke="#FFFFFF" stroke-width="1.0"/>
<line x1="275.21" y1="358.24" x2="275.21" y2="468.49" stroke="#FFFFFF" stroke-width="1.0"/>
<rect x="172.80" y="425.60" width="39.58" height="39.39" fill="#FBFBFB"/>
<rect x="174.00" y="426.80" width="37.18" height="36.79" fill="#C77CFF"/>
<rect x="174.00" y="436.20" width="37.18" height="27.39" fill="#F8766D"/>
<rect x="174.00" y="445.90" width="37.18" height="17.69" fill="#00BFC4"/>
<rect x="174.00" y="453.20" width="37.18" height="10.39" fill="#7CAE00"/>
<rect x="214.11" y="436.80" width="39.58" height="28.19" fill="#FBFBFB"/>
<rect x="215.31" y="438.00" width="37.18" height="25.59" fill="#C77CFF"/>
<rect x="215.31" y="443.90" width="37.18" height="19.69" fill="#F8766D"/>
<rect x="215.31" y="450.20" width="37.18" height="13.39" fill="#00BFC4"/>
<rect x="215.31" y="455.90" width="37.18" height="7.69" fill="#7CAE00"/>
<rect x="255.42" y="427.10" width="39.58" height="37.89" fill="#FBFBFB"/>
<rect x="256.62" y="428.30" width="37.18" height="35.29" fill="#C77CFF"/>
<rect x="256.62" y="437.30" width="37.18" height="26.29" fill="#F8766D"/>
<rect x="256.62" y="446.00" width="37.18" height="17.59" fill="#00BFC4"/>
<rect x="256.62" y="453.40" width="37.18" height="10.19" fill="#7CAE00"/>
<rect x="304.00" y="358.24" width="132.20" height="110.25" fill="#EBEBEB"/>
<line x1="304.00" y1="453.51" x2="436.20" y2="453.51" stroke="#F6F6F6" stroke-width="0.6"/>
<line x1="304.00" y1="432.56" x2="436.20" y2="432.56" stroke="#F6F6F6" stroke-width="0.6"/>
<line x1="304.00" y1="411.62" x2="436.20" y2="411.62" stroke="#F6F6F6" stroke-width="0.6"/>
<line x1="304.00" y1="390.67" x2="436.20" y2="390.67" stroke="#F6F6F6" stroke-width="0.6"/>
<line x1="304.00" y1="369.72" x2="436.20" y2="369.72" stroke="#F6F6F6" stroke-width="0.6"/>
<line x1="304.00" y1="463.99" x2="436.20" y2="463.99" stroke="#FFFFFF" stroke-width="1.0"/>
<line x1="304.00" y1="443.04" x2="436.20" y2="443.04" stroke="#FFFFFF" stroke-width="1.0"/>
<line x1="304.00" y1="422.09" x2="436.20" y2="422.09" stroke="#FFFFFF" stroke-width="1.0"/>
<line x1="304.00" y1="401.14" x2="436.20" y2="401.14" stroke="#FFFFFF" stroke-width="1.0"/>
<line x1="304.00" y1="380.19" x2="436.20" y2="380.19" stroke="#FFFFFF" stroke-width="1.0"/>
<line x1="304.00" y1="359.24" x2="436.20" y2="359.24" stroke="#FFFFFF" stroke-width="1.0"/>
<line x1="328.79" y1="358.24" x2="328.79" y2="468.49" stroke="#FFFFFF" stroke-width="1.0"/>
<line x1="370.10" y1="358.24" x2="370.10" y2="468.49" stroke="#FFFFFF" stroke-width="1.0"/>
<line x1="411.41" y1="358.24" x2="411.41" y2="468.49" stroke="#FFFFFF" stroke-width="1.0"/>
<rect x="309.00" y="414.00" width="39.58" height="50.99" fill="#FBFBFB"/>
<rect x="310.20" y="415.20" width="37.18" height="48.39" fill="#C77CFF"/>
<rect x="310.20" y="423.00" width="37.18" height="40.59" fill="#F8766D"/>
<rect x="310.20" y="435.50" width="37.18" height="28.09" fill="#00BFC4"/>
<rect x="310.20" y="452.80" width="37.18" height="10.79" fill="#7CAE00"/>
<rect x="350.31" y="427.20" width="39.58" height="37.79" fill="#FBFBFB"/>
<rect x="351.51" y="428.40" width="37.18" height="35.19" fill="#C77CFF"/>
<rect x="351.51" y="435.50" width="37.18" height="28.09" fill="#F8766D"/>
<rect x="351.51" y="444.30" width="37.18" height="19.29" fill="#00BFC4"/>
<rect x="351.51" y="454.90" width="37.18" height="8.69" fill="#7CAE00"/>
<rect x="391.62" y="409.70" width="39.58" height="55.29" fill="#FBFBFB"/>
<rect x="392.82" y="410.90" width="37.18" height="52.69" fill="#C77CFF"/>
<rect x="392.82" y="420.40" width="37.18" height="43.19" fill="#F8766D"/>
<rect x="392.82" y="434.10" width="37.18" height="29.49" fill="#00BFC4"/>
<rect x="392.82" y="451.20" width="37.18" height="12.39" fill="#7CAE00"/>
<text x="0.00" y="0.00" font-size="8.6" fill="#222" font-weight="normal" text-anchor="end" transform="translate(28.50,466.99) scale(0.93,1)" stroke="#222" stroke-width="0.25">0.0</text>
<line x1="29.60" y1="463.99" x2="31.60" y2="463.99" stroke="#222222" stroke-width="1.0"/>
<text x="0.00" y="0.00" font-size="8.6" fill="#222" font-weight="normal" text-anchor="end" transform="translate(28.50,446.04) scale(0.93,1)" stroke="#222" stroke-width="0.25">2.5</text>
<line x1="29.60" y1="443.04" x2="31.60" y2="443.04" stroke="#222222" stroke-width="1.0"/>
<text x="0.00" y="0.00" font-size="8.6" fill="#222" font-weight="normal" text-anchor="end" transform="translate(28.50,425.09) scale(0.93,1)" stroke="#222" stroke-width="0.25">5.0</text>
<line x1="29.60" y1="422.09" x2="31.60" y2="422.09" stroke="#222222" stroke-width="1.0"/>
<text x="0.00" y="0.00" font-size="8.6" fill="#222" font-weight="normal" text-anchor="end" transform="translate(28.50,404.14) scale(0.93,1)" stroke="#222" stroke-width="0.25">7.5</text>
<line x1="29.60" y1="401.14" x2="31.60" y2="401.14" stroke="#222222" stroke-width="1.0"/>
<text x="0.00" y="0.00" font-size="8.6" fill="#222" font-weight="normal" text-anchor="end" transform="translate(28.50,383.19) scale(0.93,1)" stroke="#222" stroke-width="0.25">10.0</text>
<line x1="29.60" y1="380.19" x2="31.60" y2="380.19" stroke="#222222" stroke-width="1.0"/>
<text x="0.00" y="0.00" font-size="8.6" fill="#222" font-weight="normal" text-anchor="end" transform="translate(28.50,362.24) scale(0.93,1)" stroke="#222" stroke-width="0.25">12.5</text>
<line x1="29.60" y1="359.24" x2="31.60" y2="359.24" stroke="#222222" stroke-width="1.0"/>
<line x1="56.39" y1="468.49" x2="56.39" y2="470.49" stroke="#222222" stroke-width="1.0"/>
<text x="0.00" y="0.00" font-size="8.6" fill="#1a1a1a" font-weight="normal" text-anchor="end" transform="translate(59.39,472.00) rotate(-90) scale(0.915,1)" stroke="#1a1a1a" stroke-width="0.3">CCLM.CMAQ</text>
<line x1="97.70" y1="468.49" x2="97.70" y2="470.49" stroke="#222222" stroke-width="1.0"/>
<text x="0.00" y="0.00" font-size="8.6" fill="#1a1a1a" font-weight="normal" text-anchor="end" transform="translate(100.70,472.00) rotate(-90) scale(0.915,1)" stroke="#1a1a1a" stroke-width="0.3">WRF.CMAQ</text>
<line x1="139.01" y1="468.49" x2="139.01" y2="470.49" stroke="#222222" stroke-width="1.0"/>
<text x="0.00" y="0.00" font-size="8.6" fill="#1a1a1a" font-weight="normal" text-anchor="end" transform="translate(142.01,472.00) rotate(-90) scale(0.915,1)" stroke="#1a1a1a" stroke-width="0.3">WRF.DEHM</text>
<line x1="192.59" y1="468.49" x2="192.59" y2="470.49" stroke="#222222" stroke-width="1.0"/>
<text x="0.00" y="0.00" font-size="8.6" fill="#1a1a1a" font-weight="normal" text-anchor="end" transform="translate(195.59,472.00) rotate(-90) scale(0.915,1)" stroke="#1a1a1a" stroke-width="0.3">CCLM.CMAQ</text>
<line x1="233.90" y1="468.49" x2="233.90" y2="470.49" stroke="#222222" stroke-width="1.0"/>
<text x="0.00" y="0.00" font-size="8.6" fill="#1a1a1a" font-weight="normal" text-anchor="end" transform="translate(236.90,472.00) rotate(-90) scale(0.915,1)" stroke="#1a1a1a" stroke-width="0.3">WRF.CMAQ</text>
<line x1="275.21" y1="468.49" x2="275.21" y2="470.49" stroke="#222222" stroke-width="1.0"/>
<text x="0.00" y="0.00" font-size="8.6" fill="#1a1a1a" font-weight="normal" text-anchor="end" transform="translate(278.21,472.00) rotate(-90) scale(0.915,1)" stroke="#1a1a1a" stroke-width="0.3">WRF.DEHM</text>
<line x1="328.79" y1="468.49" x2="328.79" y2="470.49" stroke="#222222" stroke-width="1.0"/>
<text x="0.00" y="0.00" font-size="8.6" fill="#1a1a1a" font-weight="normal" text-anchor="end" transform="translate(331.79,472.00) rotate(-90) scale(0.915,1)" stroke="#1a1a1a" stroke-width="0.3">CCLM.CMAQ</text>
<line x1="370.10" y1="468.49" x2="370.10" y2="470.49" stroke="#222222" stroke-width="1.0"/>
<text x="0.00" y="0.00" font-size="8.6" fill="#1a1a1a" font-weight="normal" text-anchor="end" transform="translate(373.10,472.00) rotate(-90) scale(0.915,1)" stroke="#1a1a1a" stroke-width="0.3">WRF.CMAQ</text>
<line x1="411.41" y1="468.49" x2="411.41" y2="470.49" stroke="#222222" stroke-width="1.0"/>
<text x="0.00" y="0.00" font-size="8.6" fill="#1a1a1a" font-weight="normal" text-anchor="end" transform="translate(414.41,472.00) rotate(-90) scale(0.915,1)" stroke="#1a1a1a" stroke-width="0.3">WRF.DEHM</text>
<rect x="30.00" y="530.60" width="132.00" height="13.20" fill="#D9D9D9"/>
<rect x="166.10" y="530.60" width="132.00" height="13.20" fill="#D9D9D9"/>
<rect x="302.30" y="530.60" width="132.00" height="13.20" fill="#D9D9D9"/>
<text x="94.80" y="540.80" font-size="8.4" fill="#0000FF" font-weight="bold" text-anchor="middle">Region1</text>
<text x="237.60" y="540.80" font-size="8.4" fill="#0000FF" font-weight="bold" text-anchor="middle">Region2</text>
<text x="369.40" y="540.80" font-size="8.4" fill="#0000FF" font-weight="bold" text-anchor="middle">Region3</text>
<rect x="434.30" y="544.10" width="13.70" height="111.60" fill="#D9D9D9"/>
<text x="0.00" y="0.00" font-size="8.6" fill="#0000FF" font-weight="bold" text-anchor="middle" transform="translate(438.30,599.90) rotate(90)">WS.FT</text>
<rect x="30.00" y="544.10" width="132.00" height="111.60" fill="#EBEBEB"/>
<line x1="30.00" y1="638.36" x2="162.00" y2="638.36" stroke="#F6F6F6" stroke-width="0.6"/>
<line x1="30.00" y1="612.89" x2="162.00" y2="612.89" stroke="#F6F6F6" stroke-width="0.6"/>
<line x1="30.00" y1="587.41" x2="162.00" y2="587.41" stroke="#F6F6F6" stroke-width="0.6"/>
<line x1="30.00" y1="561.94" x2="162.00" y2="561.94" stroke="#F6F6F6" stroke-width="0.6"/>
<line x1="30.00" y1="651.10" x2="162.00" y2="651.10" stroke="#FFFFFF" stroke-width="1.0"/>
<line x1="30.00" y1="625.62" x2="162.00" y2="625.62" stroke="#FFFFFF" stroke-width="1.0"/>
<line x1="30.00" y1="600.15" x2="162.00" y2="600.15" stroke="#FFFFFF" stroke-width="1.0"/>
<line x1="30.00" y1="574.68" x2="162.00" y2="574.68" stroke="#FFFFFF" stroke-width="1.0"/>
<line x1="30.00" y1="549.20" x2="162.00" y2="549.20" stroke="#FFFFFF" stroke-width="1.0"/>
<line x1="66.00" y1="544.10" x2="66.00" y2="655.70" stroke="#FFFFFF" stroke-width="1.0"/>
<line x1="126.00" y1="544.10" x2="126.00" y2="655.70" stroke="#FFFFFF" stroke-width="1.0"/>
<rect x="37.80" y="612.00" width="56.40" height="40.50" fill="#FBFBFB"/>
<rect x="39.00" y="613.20" width="54.00" height="37.90" fill="#C77CFF"/>
<rect x="39.00" y="621.80" width="54.00" height="29.30" fill="#F8766D"/>
<rect x="39.00" y="632.00" width="54.00" height="19.10" fill="#00BFC4"/>
<rect x="39.00" y="642.00" width="54.00" height="9.10" fill="#7CAE00"/>
<rect x="97.80" y="592.60" width="56.40" height="59.90" fill="#FBFBFB"/>
<rect x="99.00" y="593.80" width="54.00" height="57.30" fill="#C77CFF"/>
<rect x="99.00" y="609.80" width="54.00" height="41.30" fill="#F8766D"/>
<rect x="99.00" y="625.00" width="54.00" height="26.10" fill="#00BFC4"/>
<rect x="99.00" y="637.10" width="54.00" height="14.00" fill="#7CAE00"/>
<rect x="166.10" y="544.10" width="132.00" height="111.60" fill="#EBEBEB"/>
<line x1="166.10" y1="638.36" x2="298.10" y2="638.36" stroke="#F6F6F6" stroke-width="0.6"/>
<line x1="166.10" y1="612.89" x2="298.10" y2="612.89" stroke="#F6F6F6" stroke-width="0.6"/>
<line x1="166.10" y1="587.41" x2="298.10" y2="587.41" stroke="#F6F6F6" stroke-width="0.6"/>
<line x1="166.10" y1="561.94" x2="298.10" y2="561.94" stroke="#F6F6F6" stroke-width="0.6"/>
<line x1="166.10" y1="651.10" x2="298.10" y2="651.10" stroke="#FFFFFF" stroke-width="1.0"/>
<line x1="166.10" y1="625.62" x2="298.10" y2="625.62" stroke="#FFFFFF" stroke-width="1.0"/>
<line x1="166.10" y1="600.15" x2="298.10" y2="600.15" stroke="#FFFFFF" stroke-width="1.0"/>
<line x1="166.10" y1="574.68" x2="298.10" y2="574.68" stroke="#FFFFFF" stroke-width="1.0"/>
<line x1="166.10" y1="549.20" x2="298.10" y2="549.20" stroke="#FFFFFF" stroke-width="1.0"/>
<line x1="202.10" y1="544.10" x2="202.10" y2="655.70" stroke="#FFFFFF" stroke-width="1.0"/>
<line x1="262.10" y1="544.10" x2="262.10" y2="655.70" stroke="#FFFFFF" stroke-width="1.0"/>
<rect x="173.90" y="603.80" width="56.40" height="48.70" fill="#FBFBFB"/>
<rect x="175.10" y="605.00" width="54.00" height="46.10" fill="#C77CFF"/>
<rect x="175.10" y="615.20" width="54.00" height="35.90" fill="#F8766D"/>
<rect x="175.10" y="627.50" width="54.00" height="23.60" fill="#00BFC4"/>
<rect x="175.10" y="639.80" width="54.00" height="11.30" fill="#7CAE00"/>
<rect x="233.90" y="590.90" width="56.40" height="61.60" fill="#FBFBFB"/>
<rect x="235.10" y="592.10" width="54.00" height="59.00" fill="#C77CFF"/>
<rect x="235.10" y="608.90" width="54.00" height="42.20" fill="#F8766D"/>
<rect x="235.10" y="624.30" width="54.00" height="26.80" fill="#00BFC4"/>
<rect x="235.10" y="635.60" width="54.00" height="15.50" fill="#7CAE00"/>
<rect x="302.30" y="544.10" width="132.00" height="111.60" fill="#EBEBEB"/>
<line x1="302.30" y1="638.36" x2="434.30" y2="638.36" stroke="#F6F6F6" stroke-width="0.6"/>
<line x1="302.30" y1="612.89" x2="434.30" y2="612.89" stroke="#F6F6F6" stroke-width="0.6"/>
<line x1="302.30" y1="587.41" x2="434.30" y2="587.41" stroke="#F6F6F6" stroke-width="0.6"/>
<line x1="302.30" y1="561.94" x2="434.30" y2="561.94" stroke="#F6F6F6" stroke-width="0.6"/>
<line x1="302.30" y1="651.10" x2="434.30" y2="651.10" stroke="#FFFFFF" stroke-width="1.0"/>
<line x1="302.30" y1="625.62" x2="434.30" y2="625.62" stroke="#FFFFFF" stroke-width="1.0"/>
<line x1="302.30" y1="600.15" x2="434.30" y2="600.15" stroke="#FFFFFF" stroke-width="1.0"/>
<line x1="302.30" y1="574.68" x2="434.30" y2="574.68" stroke="#FFFFFF" stroke-width="1.0"/>
<line x1="302.30" y1="549.20" x2="434.30" y2="549.20" stroke="#FFFFFF" stroke-width="1.0"/>
<line x1="338.30" y1="544.10" x2="338.30" y2="655.70" stroke="#FFFFFF" stroke-width="1.0"/>
<line x1="398.30" y1="544.10" x2="398.30" y2="655.70" stroke="#FFFFFF" stroke-width="1.0"/>
<rect x="310.10" y="613.60" width="56.40" height="38.90" fill="#FBFBFB"/>
<rect x="311.30" y="614.80" width="54.00" height="36.30" fill="#C77CFF"/>
<rect x="311.30" y="625.00" width="54.00" height="26.10" fill="#F8766D"/>
<rect x="311.30" y="634.20" width="54.00" height="16.90" fill="#00BFC4"/>
<rect x="311.30" y="641.50" width="54.00" height="9.60" fill="#7CAE00"/>
<rect x="370.10" y="596.10" width="56.40" height="56.40" fill="#FBFBFB"/>
<rect x="371.30" y="597.30" width="54.00" height="53.80" fill="#C77CFF"/>
<rect x="371.30" y="611.90" width="54.00" height="39.20" fill="#F8766D"/>
<rect x="371.30" y="625.30" width="54.00" height="25.80" fill="#00BFC4"/>
<rect x="371.30" y="637.80" width="54.00" height="13.30" fill="#7CAE00"/>
<text x="0.00" y="0.00" font-size="8.6" fill="#222" font-weight="normal" text-anchor="end" transform="translate(26.60,654.10) scale(0.93,1)" stroke="#222" stroke-width="0.25">0.0</text>
<line x1="28.20" y1="651.10" x2="30.00" y2="651.10" stroke="#222222" stroke-width="1.0"/>
<text x="0.00" y="0.00" font-size="8.6" fill="#222" font-weight="normal" text-anchor="end" transform="translate(26.60,628.62) scale(0.93,1)" stroke="#222" stroke-width="0.25">2.5</text>
<line x1="28.20" y1="625.62" x2="30.00" y2="625.62" stroke="#222222" stroke-width="1.0"/>
<text x="0.00" y="0.00" font-size="8.6" fill="#222" font-weight="normal" text-anchor="end" transform="translate(26.60,603.15) scale(0.93,1)" stroke="#222" stroke-width="0.25">5.0</text>
<line x1="28.20" y1="600.15" x2="30.00" y2="600.15" stroke="#222222" stroke-width="1.0"/>
<text x="0.00" y="0.00" font-size="8.6" fill="#222" font-weight="normal" text-anchor="end" transform="translate(26.60,577.68) scale(0.93,1)" stroke="#222" stroke-width="0.25">7.5</text>
<line x1="28.20" y1="574.68" x2="30.00" y2="574.68" stroke="#222222" stroke-width="1.0"/>
<text x="0.00" y="0.00" font-size="8.6" fill="#222" font-weight="normal" text-anchor="end" transform="translate(26.60,552.20) scale(0.93,1)" stroke="#222" stroke-width="0.25">10.0</text>
<line x1="28.20" y1="549.20" x2="30.00" y2="549.20" stroke="#222222" stroke-width="1.0"/>
<rect x="434.30" y="659.70" width="13.70" height="111.60" fill="#D9D9D9"/>
<text x="0.00" y="0.00" font-size="8.6" fill="#0000FF" font-weight="bold" text-anchor="middle" transform="translate(438.30,715.50) rotate(90)">WS.LT</text>
<rect x="30.00" y="659.70" width="132.00" height="111.60" fill="#EBEBEB"/>
<line x1="30.00" y1="753.96" x2="162.00" y2="753.96" stroke="#F6F6F6" stroke-width="0.6"/>
<line x1="30.00" y1="728.49" x2="162.00" y2="728.49" stroke="#F6F6F6" stroke-width="0.6"/>
<line x1="30.00" y1="703.01" x2="162.00" y2="703.01" stroke="#F6F6F6" stroke-width="0.6"/>
<line x1="30.00" y1="677.54" x2="162.00" y2="677.54" stroke="#F6F6F6" stroke-width="0.6"/>
<line x1="30.00" y1="766.70" x2="162.00" y2="766.70" stroke="#FFFFFF" stroke-width="1.0"/>
<line x1="30.00" y1="741.23" x2="162.00" y2="741.23" stroke="#FFFFFF" stroke-width="1.0"/>
<line x1="30.00" y1="715.75" x2="162.00" y2="715.75" stroke="#FFFFFF" stroke-width="1.0"/>
<line x1="30.00" y1="690.28" x2="162.00" y2="690.28" stroke="#FFFFFF" stroke-width="1.0"/>
<line x1="30.00" y1="664.80" x2="162.00" y2="664.80" stroke="#FFFFFF" stroke-width="1.0"/>
<line x1="66.00" y1="659.70" x2="66.00" y2="771.30" stroke="#FFFFFF" stroke-width="1.0"/>
<line x1="126.00" y1="659.70" x2="126.00" y2="771.30" stroke="#FFFFFF" stroke-width="1.0"/>
<rect x="37.80" y="732.70" width="56.40" height="35.40" fill="#FBFBFB"/>
<rect x="39.00" y="733.90" width="54.00" height="32.80" fill="#C77CFF"/>
<rect x="39.00" y="741.20" width="54.00" height="25.50" fill="#F8766D"/>
<rect x="39.00" y="750.80" width="54.00" height="15.90" fill="#00BFC4"/>
<rect x="39.00" y="759.40" width="54.00" height="7.30" fill="#7CAE00"/>
<rect x="97.80" y="712.80" width="56.40" height="55.30" fill="#FBFBFB"/>
<rect x="99.00" y="714.00" width="54.00" height="52.70" fill="#C77CFF"/>
<rect x="99.00" y="728.20" width="54.00" height="38.50" fill="#F8766D"/>
<rect x="99.00" y="742.50" width="54.00" height="24.20" fill="#00BFC4"/>
<rect x="99.00" y="754.10" width="54.00" height="12.60" fill="#7CAE00"/>
<rect x="166.10" y="659.70" width="132.00" height="111.60" fill="#EBEBEB"/>
<line x1="166.10" y1="753.96" x2="298.10" y2="753.96" stroke="#F6F6F6" stroke-width="0.6"/>
<line x1="166.10" y1="728.49" x2="298.10" y2="728.49" stroke="#F6F6F6" stroke-width="0.6"/>
<line x1="166.10" y1="703.01" x2="298.10" y2="703.01" stroke="#F6F6F6" stroke-width="0.6"/>
<line x1="166.10" y1="677.54" x2="298.10" y2="677.54" stroke="#F6F6F6" stroke-width="0.6"/>
<line x1="166.10" y1="766.70" x2="298.10" y2="766.70" stroke="#FFFFFF" stroke-width="1.0"/>
<line x1="166.10" y1="741.23" x2="298.10" y2="741.23" stroke="#FFFFFF" stroke-width="1.0"/>
<line x1="166.10" y1="715.75" x2="298.10" y2="715.75" stroke="#FFFFFF" stroke-width="1.0"/>
<line x1="166.10" y1="690.28" x2="298.10" y2="690.28" stroke="#FFFFFF" stroke-width="1.0"/>
<line x1="166.10" y1="664.80" x2="298.10" y2="664.80" stroke="#FFFFFF" stroke-width="1.0"/>
<line x1="202.10" y1="659.70" x2="202.10" y2="771.30" stroke="#FFFFFF" stroke-width="1.0"/>
<line x1="262.10" y1="659.70" x2="262.10" y2="771.30" stroke="#FFFFFF" stroke-width="1.0"/>
<rect x="173.90" y="724.40" width="56.40" height="43.70" fill="#FBFBFB"/>
<rect x="175.10" y="725.60" width="54.00" height="41.10" fill="#C77CFF"/>
<rect x="175.10" y="735.10" width="54.00" height="31.60" fill="#F8766D"/>
<rect x="175.10" y="746.20" width="54.00" height="20.50" fill="#00BFC4"/>
<rect x="175.10" y="756.70" width="54.00" height="10.00" fill="#7CAE00"/>
<rect x="233.90" y="710.20" width="56.40" height="57.90" fill="#FBFBFB"/>
<rect x="235.10" y="711.40" width="54.00" height="55.30" fill="#C77CFF"/>
<rect x="235.10" y="727.40" width="54.00" height="39.30" fill="#F8766D"/>
<rect x="235.10" y="741.60" width="54.00" height="25.10" fill="#00BFC4"/>
<rect x="235.10" y="752.40" width="54.00" height="14.30" fill="#7CAE00"/>
<rect x="302.30" y="659.70" width="132.00" height="111.60" fill="#EBEBEB"/>
<line x1="302.30" y1="753.96" x2="434.30" y2="753.96" stroke="#F6F6F6" stroke-width="0.6"/>
<line x1="302.30" y1="728.49" x2="434.30" y2="728.49" stroke="#F6F6F6" stroke-width="0.6"/>
<line x1="302.30" y1="703.01" x2="434.30" y2="703.01" stroke="#F6F6F6" stroke-width="0.6"/>
<line x1="302.30" y1="677.54" x2="434.30" y2="677.54" stroke="#F6F6F6" stroke-width="0.6"/>
<line x1="302.30" y1="766.70" x2="434.30" y2="766.70" stroke="#FFFFFF" stroke-width="1.0"/>
<line x1="302.30" y1="741.23" x2="434.30" y2="741.23" stroke="#FFFFFF" stroke-width="1.0"/>
<line x1="302.30" y1="715.75" x2="434.30" y2="715.75" stroke="#FFFFFF" stroke-width="1.0"/>
<line x1="302.30" y1="690.28" x2="434.30" y2="690.28" stroke="#FFFFFF" stroke-width="1.0"/>
<line x1="302.30" y1="664.80" x2="434.30" y2="664.80" stroke="#FFFFFF" stroke-width="1.0"/>
<line x1="338.30" y1="659.70" x2="338.30" y2="771.30" stroke="#FFFFFF" stroke-width="1.0"/>
<line x1="398.30" y1="659.70" x2="398.30" y2="771.30" stroke="#FFFFFF" stroke-width="1.0"/>
<rect x="310.10" y="740.00" width="56.40" height="28.10" fill="#FBFBFB"/>
<rect x="311.30" y="741.20" width="54.00" height="25.50" fill="#C77CFF"/>
<rect x="311.30" y="749.50" width="54.00" height="17.20" fill="#F8766D"/>
<rect x="311.30" y="756.20" width="54.00" height="10.50" fill="#00BFC4"/>
<rect x="311.30" y="759.70" width="54.00" height="7.00" fill="#7CAE00"/>
<rect x="370.10" y="717.40" width="56.40" height="50.70" fill="#FBFBFB"/>
<rect x="371.30" y="718.60" width="54.00" height="48.10" fill="#C77CFF"/>
<rect x="371.30" y="731.50" width="54.00" height="35.20" fill="#F8766D"/>
<rect x="371.30" y="744.30" width="54.00" height="22.40" fill="#00BFC4"/>
<rect x="371.30" y="755.00" width="54.00" height="11.70" fill="#7CAE00"/>
<text x="0.00" y="0.00" font-size="8.6" fill="#222" font-weight="normal" text-anchor="end" transform="translate(26.60,769.70) scale(0.93,1)" stroke="#222" stroke-width="0.25">0.0</text>
<line x1="28.20" y1="766.70" x2="30.00" y2="766.70" stroke="#222222" stroke-width="1.0"/>
<text x="0.00" y="0.00" font-size="8.6" fill="#222" font-weight="normal" text-anchor="end" transform="translate(26.60,744.23) scale(0.93,1)" stroke="#222" stroke-width="0.25">2.5</text>
<line x1="28.20" y1="741.23" x2="30.00" y2="741.23" stroke="#222222" stroke-width="1.0"/>
<text x="0.00" y="0.00" font-size="8.6" fill="#222" font-weight="normal" text-anchor="end" transform="translate(26.60,718.75) scale(0.93,1)" stroke="#222" stroke-width="0.25">5.0</text>
<line x1="28.20" y1="715.75" x2="30.00" y2="715.75" stroke="#222222" stroke-width="1.0"/>
<text x="0.00" y="0.00" font-size="8.6" fill="#222" font-weight="normal" text-anchor="end" transform="translate(26.60,693.28) scale(0.93,1)" stroke="#222" stroke-width="0.25">7.5</text>
<line x1="28.20" y1="690.28" x2="30.00" y2="690.28" stroke="#222222" stroke-width="1.0"/>
<text x="0.00" y="0.00" font-size="8.6" fill="#222" font-weight="normal" text-anchor="end" transform="translate(26.60,667.80) scale(0.93,1)" stroke="#222" stroke-width="0.25">10.0</text>
<line x1="28.20" y1="664.80" x2="30.00" y2="664.80" stroke="#222222" stroke-width="1.0"/>
<rect x="434.30" y="775.30" width="13.70" height="111.60" fill="#D9D9D9"/>
<text x="0.00" y="0.00" font-size="8.6" fill="#0000FF" font-weight="bold" text-anchor="middle" transform="translate(438.30,831.10) rotate(90)">WS.SY</text>
<rect x="30.00" y="775.30" width="132.00" height="111.60" fill="#EBEBEB"/>
<line x1="30.00" y1="869.56" x2="162.00" y2="869.56" stroke="#F6F6F6" stroke-width="0.6"/>
<line x1="30.00" y1="844.09" x2="162.00" y2="844.09" stroke="#F6F6F6" stroke-width="0.6"/>
<line x1="30.00" y1="818.61" x2="162.00" y2="818.61" stroke="#F6F6F6" stroke-width="0.6"/>
<line x1="30.00" y1="793.14" x2="162.00" y2="793.14" stroke="#F6F6F6" stroke-width="0.6"/>
<line x1="30.00" y1="882.30" x2="162.00" y2="882.30" stroke="#FFFFFF" stroke-width="1.0"/>
<line x1="30.00" y1="856.82" x2="162.00" y2="856.82" stroke="#FFFFFF" stroke-width="1.0"/>
<line x1="30.00" y1="831.35" x2="162.00" y2="831.35" stroke="#FFFFFF" stroke-width="1.0"/>
<line x1="30.00" y1="805.88" x2="162.00" y2="805.88" stroke="#FFFFFF" stroke-width="1.0"/>
<line x1="30.00" y1="780.40" x2="162.00" y2="780.40" stroke="#FFFFFF" stroke-width="1.0"/>
<line x1="66.00" y1="775.30" x2="66.00" y2="886.90" stroke="#FFFFFF" stroke-width="1.0"/>
<line x1="126.00" y1="775.30" x2="126.00" y2="886.90" stroke="#FFFFFF" stroke-width="1.0"/>
<rect x="37.80" y="874.90" width="56.40" height="8.80" fill="#FBFBFB"/>
<rect x="39.00" y="876.10" width="54.00" height="6.20" fill="#C77CFF"/>
<rect x="39.00" y="877.80" width="54.00" height="4.50" fill="#F8766D"/>
<rect x="39.00" y="879.10" width="54.00" height="3.20" fill="#00BFC4"/>
<rect x="39.00" y="880.60" width="54.00" height="1.70" fill="#7CAE00"/>
<rect x="97.80" y="868.70" width="56.40" height="15.00" fill="#FBFBFB"/>
<rect x="99.00" y="869.90" width="54.00" height="12.40" fill="#C77CFF"/>
<rect x="99.00" y="873.60" width="54.00" height="8.70" fill="#F8766D"/>
<rect x="99.00" y="876.60" width="54.00" height="5.70" fill="#00BFC4"/>
<rect x="99.00" y="878.90" width="54.00" height="3.40" fill="#7CAE00"/>
<rect x="166.10" y="775.30" width="132.00" height="111.60" fill="#EBEBEB"/>
<line x1="166.10" y1="869.56" x2="298.10" y2="869.56" stroke="#F6F6F6" stroke-width="0.6"/>
<line x1="166.10" y1="844.09" x2="298.10" y2="844.09" stroke="#F6F6F6" stroke-width="0.6"/>
<line x1="166.10" y1="818.61" x2="298.10" y2="818.61" stroke="#F6F6F6" stroke-width="0.6"/>
<line x1="166.10" y1="793.14" x2="298.10" y2="793.14" stroke="#F6F6F6" stroke-width="0.6"/>
<line x1="166.10" y1="882.30" x2="298.10" y2="882.30" stroke="#FFFFFF" stroke-width="1.0"/>
<line x1="166.10" y1="856.82" x2="298.10" y2="856.82" stroke="#FFFFFF" stroke-width="1.0"/>
<line x1="166.10" y1="831.35" x2="298.10" y2="831.35" stroke="#FFFFFF" stroke-width="1.0"/>
<line x1="166.10" y1="805.88" x2="298.10" y2="805.88" stroke="#FFFFFF" stroke-width="1.0"/>
<line x1="166.10" y1="780.40" x2="298.10" y2="780.40" stroke="#FFFFFF" stroke-width="1.0"/>
<line x1="202.10" y1="775.30" x2="202.10" y2="886.90" stroke="#FFFFFF" stroke-width="1.0"/>
<line x1="262.10" y1="775.30" x2="262.10" y2="886.90" stroke="#FFFFFF" stroke-width="1.0"/>
<rect x="173.90" y="876.30" width="56.40" height="7.40" fill="#FBFBFB"/>
<rect x="175.10" y="877.50" width="54.00" height="4.80" fill="#C77CFF"/>
<rect x="175.10" y="878.90" width="54.00" height="3.40" fill="#F8766D"/>
<rect x="175.10" y="879.70" width="54.00" height="2.60" fill="#00BFC4"/>
<rect x="175.10" y="880.60" width="54.00" height="1.70" fill="#7CAE00"/>
<rect x="233.90" y="870.40" width="56.40" height="13.30" fill="#FBFBFB"/>
<rect x="235.10" y="871.60" width="54.00" height="10.70" fill="#C77CFF"/>
<rect x="235.10" y="875.30" width="54.00" height="7.00" fill="#F8766D"/>
<rect x="235.10" y="877.40" width="54.00" height="4.90" fill="#00BFC4"/>
<rect x="235.10" y="879.10" width="54.00" height="3.20" fill="#7CAE00"/>
<rect x="302.30" y="775.30" width="132.00" height="111.60" fill="#EBEBEB"/>
<line x1="302.30" y1="869.56" x2="434.30" y2="869.56" stroke="#F6F6F6" stroke-width="0.6"/>
<line x1="302.30" y1="844.09" x2="434.30" y2="844.09" stroke="#F6F6F6" stroke-width="0.6"/>
<line x1="302.30" y1="818.61" x2="434.30" y2="818.61" stroke="#F6F6F6" stroke-width="0.6"/>
<line x1="302.30" y1="793.14" x2="434.30" y2="793.14" stroke="#F6F6F6" stroke-width="0.6"/>
<line x1="302.30" y1="882.30" x2="434.30" y2="882.30" stroke="#FFFFFF" stroke-width="1.0"/>
<line x1="302.30" y1="856.82" x2="434.30" y2="856.82" stroke="#FFFFFF" stroke-width="1.0"/>
<line x1="302.30" y1="831.35" x2="434.30" y2="831.35" stroke="#FFFFFF" stroke-width="1.0"/>
<line x1="302.30" y1="805.88" x2="434.30" y2="805.88" stroke="#FFFFFF" stroke-width="1.0"/>
<line x1="302.30" y1="780.40" x2="434.30" y2="780.40" stroke="#FFFFFF" stroke-width="1.0"/>
<line x1="338.30" y1="775.30" x2="338.30" y2="886.90" stroke="#FFFFFF" stroke-width="1.0"/>
<line x1="398.30" y1="775.30" x2="398.30" y2="886.90" stroke="#FFFFFF" stroke-width="1.0"/>
<rect x="310.10" y="873.20" width="56.40" height="10.50" fill="#FBFBFB"/>
<rect x="311.30" y="874.40" width="54.00" height="7.90" fill="#C77CFF"/>
<rect x="311.30" y="876.10" width="54.00" height="6.20" fill="#F8766D"/>
<rect x="311.30" y="878.10" width="54.00" height="4.20" fill="#00BFC4"/>
<rect x="311.30" y="879.80" width="54.00" height="2.50" fill="#7CAE00"/>
<rect x="370.10" y="871.70" width="56.40" height="12.00" fill="#FBFBFB"/>
<rect x="371.30" y="872.90" width="54.00" height="9.40" fill="#C77CFF"/>
<rect x="371.30" y="875.90" width="54.00" height="6.40" fill="#F8766D"/>
<rect x="371.30" y="878.10" width="54.00" height="4.20" fill="#00BFC4"/>
<rect x="371.30" y="880.00" width="54.00" height="2.30" fill="#7CAE00"/>
<text x="0.00" y="0.00" font-size="8.6" fill="#222" font-weight="normal" text-anchor="end" transform="translate(26.60,885.30) scale(0.93,1)" stroke="#222" stroke-width="0.25">0.0</text>
<line x1="28.20" y1="882.30" x2="30.00" y2="882.30" stroke="#222222" stroke-width="1.0"/>
<text x="0.00" y="0.00" font-size="8.6" fill="#222" font-weight="normal" text-anchor="end" transform="translate(26.60,859.82) scale(0.93,1)" stroke="#222" stroke-width="0.25">2.5</text>
<line x1="28.20" y1="856.82" x2="30.00" y2="856.82" stroke="#222222" stroke-width="1.0"/>
<text x="0.00" y="0.00" font-size="8.6" fill="#222" font-weight="normal" text-anchor="end" transform="translate(26.60,834.35) scale(0.93,1)" stroke="#222" stroke-width="0.25">5.0</text>
<line x1="28.20" y1="831.35" x2="30.00" y2="831.35" stroke="#222222" stroke-width="1.0"/>
<text x="0.00" y="0.00" font-size="8.6" fill="#222" font-weight="normal" text-anchor="end" transform="translate(26.60,808.88) scale(0.93,1)" stroke="#222" stroke-width="0.25">7.5</text>
<line x1="28.20" y1="805.88" x2="30.00" y2="805.88" stroke="#222222" stroke-width="1.0"/>
<text x="0.00" y="0.00" font-size="8.6" fill="#222" font-weight="normal" text-anchor="end" transform="translate(26.60,783.40) scale(0.93,1)" stroke="#222" stroke-width="0.25">10.0</text>
<line x1="28.20" y1="780.40" x2="30.00" y2="780.40" stroke="#222222" stroke-width="1.0"/>
<rect x="434.30" y="890.90" width="13.70" height="111.60" fill="#D9D9D9"/>
<text x="0.00" y="0.00" font-size="8.6" fill="#0000FF" font-weight="bold" text-anchor="middle" transform="translate(438.30,946.70) rotate(90)">WS.DU</text>
<rect x="30.00" y="890.90" width="132.00" height="111.60" fill="#EBEBEB"/>
<line x1="30.00" y1="985.16" x2="162.00" y2="985.16" stroke="#F6F6F6" stroke-width="0.6"/>
<line x1="30.00" y1="959.69" x2="162.00" y2="959.69" stroke="#F6F6F6" stroke-width="0.6"/>
<line x1="30.00" y1="934.21" x2="162.00" y2="934.21" stroke="#F6F6F6" stroke-width="0.6"/>
<line x1="30.00" y1="908.74" x2="162.00" y2="908.74" stroke="#F6F6F6" stroke-width="0.6"/>
<line x1="30.00" y1="997.90" x2="162.00" y2="997.90" stroke="#FFFFFF" stroke-width="1.0"/>
<line x1="30.00" y1="972.42" x2="162.00" y2="972.42" stroke="#FFFFFF" stroke-width="1.0"/>
<line x1="30.00" y1="946.95" x2="162.00" y2="946.95" stroke="#FFFFFF" stroke-width="1.0"/>
<line x1="30.00" y1="921.48" x2="162.00" y2="921.48" stroke="#FFFFFF" stroke-width="1.0"/>
<line x1="30.00" y1="896.00" x2="162.00" y2="896.00" stroke="#FFFFFF" stroke-width="1.0"/>
<line x1="66.00" y1="890.90" x2="66.00" y2="1002.50" stroke="#FFFFFF" stroke-width="1.0"/>
<line x1="126.00" y1="890.90" x2="126.00" y2="1002.50" stroke="#FFFFFF" stroke-width="1.0"/>
<rect x="37.80" y="983.70" width="56.40" height="15.60" fill="#FBFBFB"/>
<rect x="39.00" y="984.90" width="54.00" height="13.00" fill="#C77CFF"/>
<rect x="39.00" y="987.20" width="54.00" height="10.70" fill="#F8766D"/>
<rect x="39.00" y="990.20" width="54.00" height="7.70" fill="#00BFC4"/>
<rect x="39.00" y="993.90" width="54.00" height="4.00" fill="#7CAE00"/>
<rect x="97.80" y="986.00" width="56.40" height="13.30" fill="#FBFBFB"/>
<rect x="99.00" y="987.20" width="54.00" height="10.70" fill="#C77CFF"/>
<rect x="99.00" y="989.60" width="54.00" height="8.30" fill="#F8766D"/>
<rect x="99.00" y="992.10" width="54.00" height="5.80" fill="#00BFC4"/>
<rect x="99.00" y="994.70" width="54.00" height="3.20" fill="#7CAE00"/>
<rect x="166.10" y="890.90" width="132.00" height="111.60" fill="#EBEBEB"/>
<line x1="166.10" y1="985.16" x2="298.10" y2="985.16" stroke="#F6F6F6" stroke-width="0.6"/>
<line x1="166.10" y1="959.69" x2="298.10" y2="959.69" stroke="#F6F6F6" stroke-width="0.6"/>
<line x1="166.10" y1="934.21" x2="298.10" y2="934.21" stroke="#F6F6F6" stroke-width="0.6"/>
<line x1="166.10" y1="908.74" x2="298.10" y2="908.74" stroke="#F6F6F6" stroke-width="0.6"/>
<line x1="166.10" y1="997.90" x2="298.10" y2="997.90" stroke="#FFFFFF" stroke-width="1.0"/>
<line x1="166.10" y1="972.42" x2="298.10" y2="972.42" stroke="#FFFFFF" stroke-width="1.0"/>
<line x1="166.10" y1="946.95" x2="298.10" y2="946.95" stroke="#FFFFFF" stroke-width="1.0"/>
<line x1="166.10" y1="921.48" x2="298.10" y2="921.48" stroke="#FFFFFF" stroke-width="1.0"/>
<line x1="166.10" y1="896.00" x2="298.10" y2="896.00" stroke="#FFFFFF" stroke-width="1.0"/>
<line x1="202.10" y1="890.90" x2="202.10" y2="1002.50" stroke="#FFFFFF" stroke-width="1.0"/>
<line x1="262.10" y1="890.90" x2="262.10" y2="1002.50" stroke="#FFFFFF" stroke-width="1.0"/>
<rect x="173.90" y="980.80" width="56.40" height="18.50" fill="#FBFBFB"/>
<rect x="175.10" y="982.00" width="54.00" height="15.90" fill="#C77CFF"/>
<rect x="175.10" y="985.10" width="54.00" height="12.80" fill="#F8766D"/>
<rect x="175.10" y="989.10" width="54.00" height="8.80" fill="#00BFC4"/>
<rect x="175.10" y="993.90" width="54.00" height="4.00" fill="#7CAE00"/>
<rect x="233.90" y="984.80" width="56.40" height="14.50" fill="#FBFBFB"/>
<rect x="235.10" y="986.00" width="54.00" height="11.90" fill="#C77CFF"/>
<rect x="235.10" y="988.70" width="54.00" height="9.20" fill="#F8766D"/>
<rect x="235.10" y="992.70" width="54.00" height="5.20" fill="#00BFC4"/>
<rect x="235.10" y="995.00" width="54.00" height="2.90" fill="#7CAE00"/>
<rect x="302.30" y="890.90" width="132.00" height="111.60" fill="#EBEBEB"/>
<line x1="302.30" y1="985.16" x2="434.30" y2="985.16" stroke="#F6F6F6" stroke-width="0.6"/>
<line x1="302.30" y1="959.69" x2="434.30" y2="959.69" stroke="#F6F6F6" stroke-width="0.6"/>
<line x1="302.30" y1="934.21" x2="434.30" y2="934.21" stroke="#F6F6F6" stroke-width="0.6"/>
<line x1="302.30" y1="908.74" x2="434.30" y2="908.74" stroke="#F6F6F6" stroke-width="0.6"/>
<line x1="302.30" y1="997.90" x2="434.30" y2="997.90" stroke="#FFFFFF" stroke-width="1.0"/>
<line x1="302.30" y1="972.42" x2="434.30" y2="972.42" stroke="#FFFFFF" stroke-width="1.0"/>
<line x1="302.30" y1="946.95" x2="434.30" y2="946.95" stroke="#FFFFFF" stroke-width="1.0"/>
<line x1="302.30" y1="921.48" x2="434.30" y2="921.48" stroke="#FFFFFF" stroke-width="1.0"/>
<line x1="302.30" y1="896.00" x2="434.30" y2="896.00" stroke="#FFFFFF" stroke-width="1.0"/>
<line x1="338.30" y1="890.90" x2="338.30" y2="1002.50" stroke="#FFFFFF" stroke-width="1.0"/>
<line x1="398.30" y1="890.90" x2="398.30" y2="1002.50" stroke="#FFFFFF" stroke-width="1.0"/>
<rect x="310.10" y="979.20" width="56.40" height="20.10" fill="#FBFBFB"/>
<rect x="311.30" y="980.40" width="54.00" height="17.50" fill="#C77CFF"/>
<rect x="311.30" y="983.80" width="54.00" height="14.10" fill="#F8766D"/>
<rect x="311.30" y="988.70" width="54.00" height="9.20" fill="#00BFC4"/>
<rect x="311.30" y="993.60" width="54.00" height="4.30" fill="#7CAE00"/>
<rect x="370.10" y="981.70" width="56.40" height="17.60" fill="#FBFBFB"/>
<rect x="371.30" y="982.90" width="54.00" height="15.00" fill="#C77CFF"/>
<rect x="371.30" y="986.00" width="54.00" height="11.90" fill="#F8766D"/>
<rect x="371.30" y="989.90" width="54.00" height="8.00" fill="#00BFC4"/>
<rect x="371.30" y="994.10" width="54.00" height="3.80" fill="#7CAE00"/>
<text x="0.00" y="0.00" font-size="8.6" fill="#222" font-weight="normal" text-anchor="end" transform="translate(26.60,1000.90) scale(0.93,1)" stroke="#222" stroke-width="0.25">0.0</text>
<line x1="28.20" y1="997.90" x2="30.00" y2="997.90" stroke="#222222" stroke-width="1.0"/>
<text x="0.00" y="0.00" font-size="8.6" fill="#222" font-weight="normal" text-anchor="end" transform="translate(26.60,975.42) scale(0.93,1)" stroke="#222" stroke-width="0.25">2.5</text>
<line x1="28.20" y1="972.42" x2="30.00" y2="972.42" stroke="#222222" stroke-width="1.0"/>
<text x="0.00" y="0.00" font-size="8.6" fill="#222" font-weight="normal" text-anchor="end" transform="translate(26.60,949.95) scale(0.93,1)" stroke="#222" stroke-width="0.25">5.0</text>
<line x1="28.20" y1="946.95" x2="30.00" y2="946.95" stroke="#222222" stroke-width="1.0"/>
<text x="0.00" y="0.00" font-size="8.6" fill="#222" font-weight="normal" text-anchor="end" transform="translate(26.60,924.48) scale(0.93,1)" stroke="#222" stroke-width="0.25">7.5</text>
<line x1="28.20" y1="921.48" x2="30.00" y2="921.48" stroke="#222222" stroke-width="1.0"/>
<text x="0.00" y="0.00" font-size="8.6" fill="#222" font-weight="normal" text-anchor="end" transform="translate(26.60,899.00) scale(0.93,1)" stroke="#222" stroke-width="0.25">10.0</text>
<line x1="28.20" y1="896.00" x2="30.00" y2="896.00" stroke="#222222" stroke-width="1.0"/>
<line x1="66.00" y1="1002.50" x2="66.00" y2="1004.50" stroke="#222222" stroke-width="1.0"/>
<text x="0.00" y="0.00" font-size="8.6" fill="#1a1a1a" font-weight="normal" text-anchor="end" transform="translate(69.00,1006.10) rotate(-90) scale(0.915,1)" stroke="#1a1a1a" stroke-width="0.3">WRF.CMAQ</text>
<line x1="126.00" y1="1002.50" x2="126.00" y2="1004.50" stroke="#222222" stroke-width="1.0"/>
<text x="0.00" y="0.00" font-size="8.6" fill="#1a1a1a" font-weight="normal" text-anchor="end" transform="translate(129.00,1006.10) rotate(-90) scale(0.915,1)" stroke="#1a1a1a" stroke-width="0.3">WRF.DEHM</text>
<line x1="202.10" y1="1002.50" x2="202.10" y2="1004.50" stroke="#222222" stroke-width="1.0"/>
<text x="0.00" y="0.00" font-size="8.6" fill="#1a1a1a" font-weight="normal" text-anchor="end" transform="translate(205.10,1006.10) rotate(-90) scale(0.915,1)" stroke="#1a1a1a" stroke-width="0.3">WRF.CMAQ</text>
<line x1="262.10" y1="1002.50" x2="262.10" y2="1004.50" stroke="#222222" stroke-width="1.0"/>
<text x="0.00" y="0.00" font-size="8.6" fill="#1a1a1a" font-weight="normal" text-anchor="end" transform="translate(265.10,1006.10) rotate(-90) scale(0.915,1)" stroke="#1a1a1a" stroke-width="0.3">WRF.DEHM</text>
<line x1="338.30" y1="1002.50" x2="338.30" y2="1004.50" stroke="#222222" stroke-width="1.0"/>
<text x="0.00" y="0.00" font-size="8.6" fill="#1a1a1a" font-weight="normal" text-anchor="end" transform="translate(341.30,1006.10) rotate(-90) scale(0.915,1)" stroke="#1a1a1a" stroke-width="0.3">WRF.CMAQ</text>
<line x1="398.30" y1="1002.50" x2="398.30" y2="1004.50" stroke="#222222" stroke-width="1.0"/>
<text x="0.00" y="0.00" font-size="8.6" fill="#1a1a1a" font-weight="normal" text-anchor="end" transform="translate(401.30,1006.10) rotate(-90) scale(0.915,1)" stroke="#1a1a1a" stroke-width="0.3">WRF.DEHM</text>
<text x="0.00" y="0.00" font-size="8.8" fill="#000" font-weight="normal" text-anchor="start" transform="translate(9.75,244.50) rotate(-90)" stroke="#000" stroke-width="0.2">K</text>
<text x="0.00" y="0.00" font-size="8.4" fill="#000" font-weight="normal" text-anchor="start" transform="translate(8.10,780.20) rotate(-90) scale(0.9,1)" stroke="#000" stroke-width="0.2">m</text>
<text x="0.00" y="0.00" font-size="8.4" fill="#000" font-weight="normal" text-anchor="start" transform="translate(8.10,771.60) rotate(-90) scale(0.9,1)" stroke="#000" stroke-width="0.2">s</text>
<text x="0.00" y="0.00" font-size="5.7" fill="#000" font-weight="normal" text-anchor="start" transform="translate(5.50,765.95) rotate(-90)" stroke="#000" stroke-width="0.2">-</text>
<text x="0.00" y="0.00" font-size="5.7" fill="#000" font-weight="normal" text-anchor="start" transform="translate(5.50,763.70) rotate(-90)" stroke="#000" stroke-width="0.2">1</text>
<text x="460.80" y="214.80" font-size="8.5" fill="#000" font-weight="normal" text-anchor="start" stroke="#000" stroke-width="0.28">Season</text>
<rect x="462.00" y="218.80" width="12.10" height="10.50" fill="#F8766D"/>
<text x="476.70" y="225.90" font-size="8.45" fill="#000" font-weight="normal" text-anchor="start" stroke="#000" stroke-width="0.28">Autumn (SON)</text>
<rect x="462.00" y="230.93" width="12.10" height="10.50" fill="#7CAE00"/>
<text x="476.70" y="238.33" font-size="8.45" fill="#000" font-weight="normal" text-anchor="start" stroke="#000" stroke-width="0.28">Spring (MAM)</text>
<rect x="462.00" y="243.06" width="12.10" height="10.50" fill="#00BFC4"/>
<text x="476.70" y="250.76" font-size="8.45" fill="#000" font-weight="normal" text-anchor="start" stroke="#000" stroke-width="0.28">Summer (JJA)</text>
<rect x="462.00" y="255.19" width="12.10" height="10.50" fill="#C77CFF"/>
<text x="476.70" y="263.19" font-size="8.45" fill="#000" font-weight="normal" text-anchor="start" stroke="#000" stroke-width="0.28">Winter (DJF)</text>
<text x="459.00" y="751.60" font-size="8.5" fill="#000" font-weight="normal" text-anchor="start" stroke="#000" stroke-width="0.28">Season</text>
<rect x="460.30" y="755.50" width="12.30" height="10.50" fill="#F8766D"/>
<text x="475.00" y="762.90" font-size="8.45" fill="#000" font-weight="normal" text-anchor="start" stroke="#000" stroke-width="0.28">Autumn (SON)</text>
<rect x="460.30" y="767.73" width="12.30" height="10.50" fill="#7CAE00"/>
<text x="475.00" y="775.33" font-size="8.45" fill="#000" font-weight="normal" text-anchor="start" stroke="#000" stroke-width="0.28">Spring (MAM)</text>
<rect x="460.30" y="779.96" width="12.30" height="10.50" fill="#00BFC4"/>
<text x="475.00" y="787.76" font-size="8.45" fill="#000" font-weight="normal" text-anchor="start" stroke="#000" stroke-width="0.28">Summer (JJA)</text>
<rect x="460.30" y="792.19" width="12.30" height="10.50" fill="#C77CFF"/>
<text x="475.00" y="800.19" font-size="8.45" fill="#000" font-weight="normal" text-anchor="start" stroke="#000" stroke-width="0.28">Winter (DJF)</text>
<text transform="translate(463.38,452.67) scale(0.563,1)" x="0" y="0" font-size="22.10" fill="#000" stroke="#000" stroke-width="1.0">(</text>
<text transform="translate(469.71,452.74) scale(0.836,1)" x="0" y="0" font-size="21.17" fill="#000" stroke="#000" stroke-width="0.65">a</text>
<text transform="translate(483.08,452.67) scale(0.546,1)" x="0" y="0" font-size="22.10" fill="#000" stroke="#000" stroke-width="1.0">)</text>
<text transform="translate(461.63,979.13) scale(0.592,1)" x="0" y="0" font-size="22.32" fill="#000" stroke="#000" stroke-width="1.0">(</text>
<text transform="translate(470.95,979.53) scale(0.904,1)" x="0" y="0" font-size="22.18" fill="#000" stroke="#000" stroke-width="0.35">b</text>
<text transform="translate(485.38,979.13) scale(0.541,1)" x="0" y="0" font-size="22.32" fill="#000" stroke="#000" stroke-width="1.0">)</text>
</svg>
</div>
</body></html>
